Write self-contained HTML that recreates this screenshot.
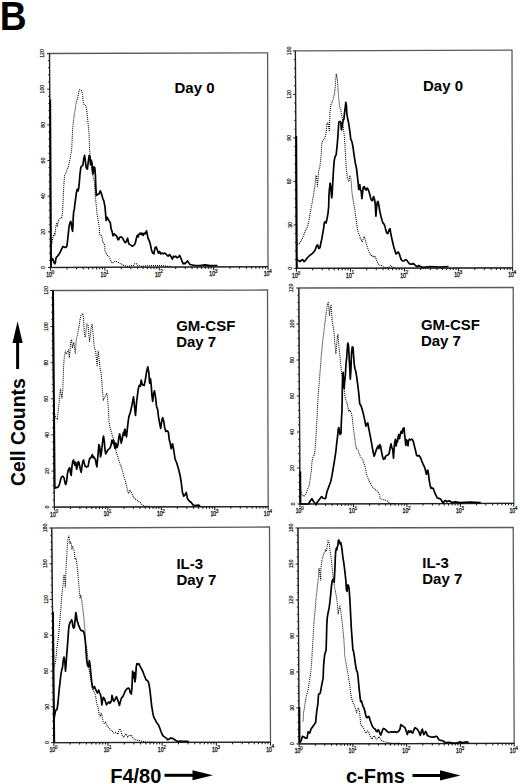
<!DOCTYPE html>
<html><head><meta charset="utf-8"><style>
html,body{margin:0;padding:0;background:#fff;}
body{width:520px;height:784px;position:relative;overflow:hidden;font-family:"Liberation Sans",sans-serif;}
svg text{font-family:"Liberation Sans",sans-serif;}
</style></head><body>
<svg width="520" height="784" viewBox="0 0 520 784" style="position:absolute;left:0;top:0">
<text transform="translate(-0.15,29.9) scale(0.895,1)"  font-weight="bold" font-size="41.5" fill="#000">B</text>
<polyline points="50.60,267.50 49.50,53.50 267.60,52.80 268.00,266.70 50.60,267.50" fill="none" stroke="#5a5a5a" stroke-width="1.3"/>
<polyline points="49.50,53.50 50.60,267.50 268.00,266.70" fill="none" stroke="#222" stroke-width="1.15"/>
<line x1="48.00" y1="267.50" x2="50.60" y2="267.50" stroke="#222" stroke-width="1.0"/>
<text transform="translate(45.40,267.50) rotate(-90) scale(0.85,1)" text-anchor="middle"  font-size="6.1" fill="#111" stroke="#111" stroke-width="0.2">0</text>
<line x1="48.96" y1="260.37" x2="50.56" y2="260.37" stroke="#222" stroke-width="0.9"/>
<line x1="48.93" y1="253.23" x2="50.53" y2="253.23" stroke="#222" stroke-width="0.9"/>
<line x1="48.89" y1="246.10" x2="50.49" y2="246.10" stroke="#222" stroke-width="0.9"/>
<line x1="48.85" y1="238.97" x2="50.45" y2="238.97" stroke="#222" stroke-width="0.9"/>
<line x1="47.82" y1="231.83" x2="50.42" y2="231.83" stroke="#222" stroke-width="1.0"/>
<text transform="translate(45.22,231.83) rotate(-90) scale(0.85,1)" text-anchor="middle"  font-size="6.1" fill="#111" stroke="#111" stroke-width="0.2">20</text>
<line x1="48.78" y1="224.70" x2="50.38" y2="224.70" stroke="#222" stroke-width="0.9"/>
<line x1="48.74" y1="217.57" x2="50.34" y2="217.57" stroke="#222" stroke-width="0.9"/>
<line x1="48.71" y1="210.43" x2="50.31" y2="210.43" stroke="#222" stroke-width="0.9"/>
<line x1="48.67" y1="203.30" x2="50.27" y2="203.30" stroke="#222" stroke-width="0.9"/>
<line x1="47.63" y1="196.17" x2="50.23" y2="196.17" stroke="#222" stroke-width="1.0"/>
<text transform="translate(45.03,196.17) rotate(-90) scale(0.85,1)" text-anchor="middle"  font-size="6.1" fill="#111" stroke="#111" stroke-width="0.2">40</text>
<line x1="48.60" y1="189.03" x2="50.20" y2="189.03" stroke="#222" stroke-width="0.9"/>
<line x1="48.56" y1="181.90" x2="50.16" y2="181.90" stroke="#222" stroke-width="0.9"/>
<line x1="48.52" y1="174.77" x2="50.12" y2="174.77" stroke="#222" stroke-width="0.9"/>
<line x1="48.49" y1="167.63" x2="50.09" y2="167.63" stroke="#222" stroke-width="0.9"/>
<line x1="47.45" y1="160.50" x2="50.05" y2="160.50" stroke="#222" stroke-width="1.0"/>
<text transform="translate(44.85,160.50) rotate(-90) scale(0.85,1)" text-anchor="middle"  font-size="6.1" fill="#111" stroke="#111" stroke-width="0.2">60</text>
<line x1="48.41" y1="153.37" x2="50.01" y2="153.37" stroke="#222" stroke-width="0.9"/>
<line x1="48.38" y1="146.23" x2="49.98" y2="146.23" stroke="#222" stroke-width="0.9"/>
<line x1="48.34" y1="139.10" x2="49.94" y2="139.10" stroke="#222" stroke-width="0.9"/>
<line x1="48.30" y1="131.97" x2="49.90" y2="131.97" stroke="#222" stroke-width="0.9"/>
<line x1="47.27" y1="124.83" x2="49.87" y2="124.83" stroke="#222" stroke-width="1.0"/>
<text transform="translate(44.67,124.83) rotate(-90) scale(0.85,1)" text-anchor="middle"  font-size="6.1" fill="#111" stroke="#111" stroke-width="0.2">80</text>
<line x1="48.23" y1="117.70" x2="49.83" y2="117.70" stroke="#222" stroke-width="0.9"/>
<line x1="48.19" y1="110.57" x2="49.79" y2="110.57" stroke="#222" stroke-width="0.9"/>
<line x1="48.16" y1="103.43" x2="49.76" y2="103.43" stroke="#222" stroke-width="0.9"/>
<line x1="48.12" y1="96.30" x2="49.72" y2="96.30" stroke="#222" stroke-width="0.9"/>
<line x1="47.08" y1="89.17" x2="49.68" y2="89.17" stroke="#222" stroke-width="1.0"/>
<text transform="translate(44.48,89.17) rotate(-90) scale(0.85,1)" text-anchor="middle"  font-size="6.1" fill="#111" stroke="#111" stroke-width="0.2">100</text>
<line x1="48.05" y1="82.03" x2="49.65" y2="82.03" stroke="#222" stroke-width="0.9"/>
<line x1="48.01" y1="74.90" x2="49.61" y2="74.90" stroke="#222" stroke-width="0.9"/>
<line x1="47.97" y1="67.77" x2="49.57" y2="67.77" stroke="#222" stroke-width="0.9"/>
<line x1="47.94" y1="60.63" x2="49.54" y2="60.63" stroke="#222" stroke-width="0.9"/>
<line x1="46.90" y1="53.50" x2="49.50" y2="53.50" stroke="#222" stroke-width="1.0"/>
<text transform="translate(44.30,53.50) rotate(-90) scale(0.85,1)" text-anchor="middle"  font-size="6.1" fill="#111" stroke="#111" stroke-width="0.2">120</text>
<line x1="50.60" y1="267.50" x2="50.60" y2="270.80" stroke="#111" stroke-width="1.0"/>
<text transform="translate(49.10,276.90) scale(0.8,1)" text-anchor="middle"  font-size="6.4" fill="#111" stroke="#111" stroke-width="0.3">10</text>
<text transform="translate(51.60,273.70) scale(0.85,1)"  font-size="5.8" fill="#111" stroke="#111" stroke-width="0.25">0</text>
<line x1="66.96" y1="267.44" x2="66.96" y2="269.44" stroke="#111" stroke-width="1.0"/>
<line x1="76.53" y1="267.40" x2="76.53" y2="269.40" stroke="#111" stroke-width="1.0"/>
<line x1="83.32" y1="267.38" x2="83.32" y2="269.38" stroke="#111" stroke-width="1.0"/>
<line x1="88.59" y1="267.36" x2="88.59" y2="269.36" stroke="#111" stroke-width="1.0"/>
<line x1="92.89" y1="267.34" x2="92.89" y2="269.34" stroke="#111" stroke-width="1.0"/>
<line x1="96.53" y1="267.33" x2="96.53" y2="269.33" stroke="#111" stroke-width="1.0"/>
<line x1="99.68" y1="267.32" x2="99.68" y2="269.32" stroke="#111" stroke-width="1.0"/>
<line x1="102.46" y1="267.31" x2="102.46" y2="269.31" stroke="#111" stroke-width="1.0"/>
<line x1="104.95" y1="267.30" x2="104.95" y2="270.60" stroke="#111" stroke-width="1.0"/>
<text transform="translate(103.45,276.70) scale(0.8,1)" text-anchor="middle"  font-size="6.4" fill="#111" stroke="#111" stroke-width="0.3">10</text>
<text transform="translate(105.95,273.50) scale(0.85,1)"  font-size="5.8" fill="#111" stroke="#111" stroke-width="0.25">1</text>
<line x1="121.31" y1="267.24" x2="121.31" y2="269.24" stroke="#111" stroke-width="1.0"/>
<line x1="130.88" y1="267.20" x2="130.88" y2="269.20" stroke="#111" stroke-width="1.0"/>
<line x1="137.67" y1="267.18" x2="137.67" y2="269.18" stroke="#111" stroke-width="1.0"/>
<line x1="142.94" y1="267.16" x2="142.94" y2="269.16" stroke="#111" stroke-width="1.0"/>
<line x1="147.24" y1="267.14" x2="147.24" y2="269.14" stroke="#111" stroke-width="1.0"/>
<line x1="150.88" y1="267.13" x2="150.88" y2="269.13" stroke="#111" stroke-width="1.0"/>
<line x1="154.03" y1="267.12" x2="154.03" y2="269.12" stroke="#111" stroke-width="1.0"/>
<line x1="156.81" y1="267.11" x2="156.81" y2="269.11" stroke="#111" stroke-width="1.0"/>
<line x1="159.30" y1="267.10" x2="159.30" y2="270.40" stroke="#111" stroke-width="1.0"/>
<text transform="translate(157.80,276.50) scale(0.8,1)" text-anchor="middle"  font-size="6.4" fill="#111" stroke="#111" stroke-width="0.3">10</text>
<text transform="translate(160.30,273.30) scale(0.85,1)"  font-size="5.8" fill="#111" stroke="#111" stroke-width="0.25">2</text>
<line x1="175.66" y1="267.04" x2="175.66" y2="269.04" stroke="#111" stroke-width="1.0"/>
<line x1="185.23" y1="267.00" x2="185.23" y2="269.00" stroke="#111" stroke-width="1.0"/>
<line x1="192.02" y1="266.98" x2="192.02" y2="268.98" stroke="#111" stroke-width="1.0"/>
<line x1="197.29" y1="266.96" x2="197.29" y2="268.96" stroke="#111" stroke-width="1.0"/>
<line x1="201.59" y1="266.94" x2="201.59" y2="268.94" stroke="#111" stroke-width="1.0"/>
<line x1="205.23" y1="266.93" x2="205.23" y2="268.93" stroke="#111" stroke-width="1.0"/>
<line x1="208.38" y1="266.92" x2="208.38" y2="268.92" stroke="#111" stroke-width="1.0"/>
<line x1="211.16" y1="266.91" x2="211.16" y2="268.91" stroke="#111" stroke-width="1.0"/>
<line x1="213.65" y1="266.90" x2="213.65" y2="270.20" stroke="#111" stroke-width="1.0"/>
<text transform="translate(212.15,276.30) scale(0.8,1)" text-anchor="middle"  font-size="6.4" fill="#111" stroke="#111" stroke-width="0.3">10</text>
<text transform="translate(214.65,273.10) scale(0.85,1)"  font-size="5.8" fill="#111" stroke="#111" stroke-width="0.25">3</text>
<line x1="230.01" y1="266.84" x2="230.01" y2="268.84" stroke="#111" stroke-width="1.0"/>
<line x1="239.58" y1="266.80" x2="239.58" y2="268.80" stroke="#111" stroke-width="1.0"/>
<line x1="246.37" y1="266.78" x2="246.37" y2="268.78" stroke="#111" stroke-width="1.0"/>
<line x1="251.64" y1="266.76" x2="251.64" y2="268.76" stroke="#111" stroke-width="1.0"/>
<line x1="255.94" y1="266.74" x2="255.94" y2="268.74" stroke="#111" stroke-width="1.0"/>
<line x1="259.58" y1="266.73" x2="259.58" y2="268.73" stroke="#111" stroke-width="1.0"/>
<line x1="262.73" y1="266.72" x2="262.73" y2="268.72" stroke="#111" stroke-width="1.0"/>
<line x1="265.51" y1="266.71" x2="265.51" y2="268.71" stroke="#111" stroke-width="1.0"/>
<line x1="268.00" y1="266.70" x2="268.00" y2="270.00" stroke="#111" stroke-width="1.0"/>
<text transform="translate(266.50,276.10) scale(0.8,1)" text-anchor="middle"  font-size="6.4" fill="#111" stroke="#111" stroke-width="0.3">10</text>
<text transform="translate(269.00,272.90) scale(0.85,1)"  font-size="5.8" fill="#111" stroke="#111" stroke-width="0.25">4</text>
<polyline points="51.00,250.00 51.50,245.00 53.10,236.60 53.90,234.80 54.50,233.90 54.90,235.70 55.40,230.40 55.80,226.80 56.30,224.10 56.90,222.80 57.40,226.80 58.10,222.30 58.50,220.50 59.40,219.20 60.30,218.30 61.40,217.90 62.10,216.10 62.50,212.50 62.80,207.10 63.10,200.00 63.50,192.00 63.90,184.00 64.60,175.40 66.20,172.30 67.40,168.50 68.50,166.20 69.50,161.50 70.40,157.00 71.00,153.50 71.70,149.40 72.00,143.30 72.30,137.10 72.50,131.00 73.00,124.90 73.50,120.80 74.00,116.70 74.70,112.70 75.30,108.60 76.10,103.50 76.80,100.40 77.60,98.40 78.40,94.30 79.10,90.20 79.80,89.70 80.70,90.20 81.70,91.20 82.50,94.30 82.90,98.40 83.50,103.50 84.20,104.50 85.20,105.00 86.00,106.50 86.60,108.60 87.00,112.70 87.60,118.80 88.00,122.90 88.60,129.00 89.00,133.10 89.30,141.20 89.60,149.40 90.20,156.00 90.80,161.50 91.50,169.20 92.30,173.80 93.10,176.90 94.20,180.00 94.60,186.20 95.40,196.90 96.20,204.60 96.90,212.30 97.20,215.00 98.00,219.60 98.80,224.20 99.40,228.80 99.50,233.50 100.30,235.40 101.50,235.40 102.20,238.10 102.60,241.90 104.20,243.50 104.80,245.80 104.90,250.40 106.10,252.70 106.80,255.00 108.80,256.50 109.90,258.50 111.10,261.20 112.20,263.10 113.80,262.30 115.30,261.20 117.20,261.90 119.50,263.10 121.80,264.20 123.80,265.40 126.50,266.20 128.10,266.20 131.20,265.70 133.50,265.40 135.00,263.50 136.50,263.80 138.10,265.70 141.90,266.20 148.10,265.70 155.80,265.40 160.40,265.40 166.50,266.20 170.00,266.30" fill="none" stroke="#000" stroke-width="1.05" stroke-dasharray="1,1"/>
<polyline points="50.60,259.00 50.90,258.00 51.50,260.70 52.30,258.50 53.10,259.80 54.00,262.50 54.80,263.80 55.40,262.50 55.80,258.90 56.50,257.10 57.40,256.30 58.50,254.90 59.40,253.60 60.30,251.80 61.20,250.00 62.10,248.20 63.00,246.40 63.90,246.90 64.80,247.30 66.10,247.30 67.00,245.50 67.40,242.00 67.90,237.50 68.30,233.90 68.80,228.60 69.40,225.00 70.10,222.30 70.80,221.40 71.40,224.10 72.10,229.50 72.60,231.30 73.00,225.00 73.20,217.90 73.70,211.60 74.40,208.90 75.00,202.70 75.50,200.00 76.20,193.80 77.20,189.20 78.20,190.80 78.80,187.70 79.40,181.50 80.00,173.80 80.80,167.70 81.50,166.20 82.80,165.40 83.80,158.50 84.60,155.40 85.40,161.50 86.20,167.70 87.40,169.20 88.50,160.00 89.20,155.40 90.00,156.90 90.50,164.60 91.20,160.00 92.00,163.10 92.60,170.80 93.10,173.80 93.80,166.90 94.80,167.70 95.40,175.40 95.80,186.20 96.30,195.40 97.70,194.60 99.20,193.80 100.30,190.80 101.50,193.80 102.80,198.50 103.80,200.80 104.90,206.20 105.70,215.00 106.10,220.40 107.20,217.30 108.80,220.40 110.30,222.70 111.10,228.80 112.20,231.90 113.00,235.80 114.20,233.80 115.30,235.00 116.80,236.20 118.00,239.60 118.80,239.60 119.50,237.30 121.10,236.90 122.60,238.10 124.20,241.20 125.30,242.70 126.50,241.20 127.60,238.10 128.10,240.80 128.80,243.80 129.90,244.60 131.20,245.40 132.40,246.20 133.50,245.40 134.50,244.60 135.50,242.30 136.50,237.70 137.30,235.40 138.10,236.90 138.80,234.60 140.10,233.10 141.20,234.60 141.90,233.10 143.20,235.40 144.20,233.10 145.30,233.80 146.50,230.80 147.30,234.60 148.10,238.50 149.30,240.80 150.40,244.60 151.50,250.00 152.70,253.10 153.90,253.80 155.00,247.70 156.10,246.90 157.30,250.00 158.50,253.10 159.60,251.50 160.70,253.80 161.90,253.10 163.50,253.80 165.00,253.10 166.50,254.60 168.10,256.20 169.60,254.60 171.20,256.90 172.40,259.20 173.50,256.20 174.50,256.90 175.80,256.20 177.00,257.70 178.50,256.90 179.60,255.40 180.70,257.70 181.90,260.80 183.20,263.80 184.20,263.10 185.00,263.75 187.50,261.00 190.00,264.50 192.50,265.00 195.00,265.50 200.00,265.50 205.00,264.80 210.00,265.60 217.50,265.50" fill="none" stroke="#000" stroke-width="1.7" stroke-linejoin="round"/>
<line x1="50.24" y1="99.50" x2="51.10" y2="267.00" stroke="#000" stroke-width="1.8"/>
<text transform="translate(174.50,92.60) scale(1,0.93)"  font-weight="bold" font-size="15" fill="#000">Day 0</text>
<polyline points="296.40,268.40 295.40,50.90 512.00,50.20 512.60,267.90 296.40,268.40" fill="none" stroke="#5a5a5a" stroke-width="1.3"/>
<polyline points="295.40,50.90 296.40,268.40 512.60,267.90" fill="none" stroke="#222" stroke-width="1.15"/>
<line x1="293.80" y1="268.40" x2="296.40" y2="268.40" stroke="#222" stroke-width="1.0"/>
<text transform="translate(291.70,268.40) rotate(-90) scale(0.85,1)" text-anchor="middle"  font-size="6.1" fill="#111" stroke="#111" stroke-width="0.2">0</text>
<line x1="294.76" y1="259.70" x2="296.36" y2="259.70" stroke="#222" stroke-width="0.9"/>
<line x1="294.72" y1="251.00" x2="296.32" y2="251.00" stroke="#222" stroke-width="0.9"/>
<line x1="294.68" y1="242.30" x2="296.28" y2="242.30" stroke="#222" stroke-width="0.9"/>
<line x1="294.64" y1="233.60" x2="296.24" y2="233.60" stroke="#222" stroke-width="0.9"/>
<line x1="293.60" y1="224.90" x2="296.20" y2="224.90" stroke="#222" stroke-width="1.0"/>
<text transform="translate(291.50,224.90) rotate(-90) scale(0.85,1)" text-anchor="middle"  font-size="6.1" fill="#111" stroke="#111" stroke-width="0.2">30</text>
<line x1="294.56" y1="216.20" x2="296.16" y2="216.20" stroke="#222" stroke-width="0.9"/>
<line x1="294.52" y1="207.50" x2="296.12" y2="207.50" stroke="#222" stroke-width="0.9"/>
<line x1="294.48" y1="198.80" x2="296.08" y2="198.80" stroke="#222" stroke-width="0.9"/>
<line x1="294.44" y1="190.10" x2="296.04" y2="190.10" stroke="#222" stroke-width="0.9"/>
<line x1="293.40" y1="181.40" x2="296.00" y2="181.40" stroke="#222" stroke-width="1.0"/>
<text transform="translate(291.30,181.40) rotate(-90) scale(0.85,1)" text-anchor="middle"  font-size="6.1" fill="#111" stroke="#111" stroke-width="0.2">60</text>
<line x1="294.36" y1="172.70" x2="295.96" y2="172.70" stroke="#222" stroke-width="0.9"/>
<line x1="294.32" y1="164.00" x2="295.92" y2="164.00" stroke="#222" stroke-width="0.9"/>
<line x1="294.28" y1="155.30" x2="295.88" y2="155.30" stroke="#222" stroke-width="0.9"/>
<line x1="294.24" y1="146.60" x2="295.84" y2="146.60" stroke="#222" stroke-width="0.9"/>
<line x1="293.20" y1="137.90" x2="295.80" y2="137.90" stroke="#222" stroke-width="1.0"/>
<text transform="translate(291.10,137.90) rotate(-90) scale(0.85,1)" text-anchor="middle"  font-size="6.1" fill="#111" stroke="#111" stroke-width="0.2">90</text>
<line x1="294.16" y1="129.20" x2="295.76" y2="129.20" stroke="#222" stroke-width="0.9"/>
<line x1="294.12" y1="120.50" x2="295.72" y2="120.50" stroke="#222" stroke-width="0.9"/>
<line x1="294.08" y1="111.80" x2="295.68" y2="111.80" stroke="#222" stroke-width="0.9"/>
<line x1="294.04" y1="103.10" x2="295.64" y2="103.10" stroke="#222" stroke-width="0.9"/>
<line x1="293.00" y1="94.40" x2="295.60" y2="94.40" stroke="#222" stroke-width="1.0"/>
<text transform="translate(290.90,94.40) rotate(-90) scale(0.85,1)" text-anchor="middle"  font-size="6.1" fill="#111" stroke="#111" stroke-width="0.2">120</text>
<line x1="293.96" y1="85.70" x2="295.56" y2="85.70" stroke="#222" stroke-width="0.9"/>
<line x1="293.92" y1="77.00" x2="295.52" y2="77.00" stroke="#222" stroke-width="0.9"/>
<line x1="293.88" y1="68.30" x2="295.48" y2="68.30" stroke="#222" stroke-width="0.9"/>
<line x1="293.84" y1="59.60" x2="295.44" y2="59.60" stroke="#222" stroke-width="0.9"/>
<line x1="292.80" y1="50.90" x2="295.40" y2="50.90" stroke="#222" stroke-width="1.0"/>
<text transform="translate(290.70,50.90) rotate(-90) scale(0.85,1)" text-anchor="middle"  font-size="6.1" fill="#111" stroke="#111" stroke-width="0.2">150</text>
<line x1="296.40" y1="268.40" x2="296.40" y2="271.70" stroke="#111" stroke-width="1.0"/>
<text transform="translate(294.90,277.80) scale(0.8,1)" text-anchor="middle"  font-size="6.4" fill="#111" stroke="#111" stroke-width="0.3">10</text>
<text transform="translate(297.40,274.60) scale(0.85,1)"  font-size="5.8" fill="#111" stroke="#111" stroke-width="0.25">0</text>
<line x1="312.67" y1="268.36" x2="312.67" y2="270.36" stroke="#111" stroke-width="1.0"/>
<line x1="322.19" y1="268.34" x2="322.19" y2="270.34" stroke="#111" stroke-width="1.0"/>
<line x1="328.94" y1="268.32" x2="328.94" y2="270.32" stroke="#111" stroke-width="1.0"/>
<line x1="334.18" y1="268.31" x2="334.18" y2="270.31" stroke="#111" stroke-width="1.0"/>
<line x1="338.46" y1="268.30" x2="338.46" y2="270.30" stroke="#111" stroke-width="1.0"/>
<line x1="342.08" y1="268.29" x2="342.08" y2="270.29" stroke="#111" stroke-width="1.0"/>
<line x1="345.21" y1="268.29" x2="345.21" y2="270.29" stroke="#111" stroke-width="1.0"/>
<line x1="347.98" y1="268.28" x2="347.98" y2="270.28" stroke="#111" stroke-width="1.0"/>
<line x1="350.45" y1="268.27" x2="350.45" y2="271.57" stroke="#111" stroke-width="1.0"/>
<text transform="translate(348.95,277.67) scale(0.8,1)" text-anchor="middle"  font-size="6.4" fill="#111" stroke="#111" stroke-width="0.3">10</text>
<text transform="translate(351.45,274.47) scale(0.85,1)"  font-size="5.8" fill="#111" stroke="#111" stroke-width="0.25">1</text>
<line x1="366.72" y1="268.24" x2="366.72" y2="270.24" stroke="#111" stroke-width="1.0"/>
<line x1="376.24" y1="268.22" x2="376.24" y2="270.22" stroke="#111" stroke-width="1.0"/>
<line x1="382.99" y1="268.20" x2="382.99" y2="270.20" stroke="#111" stroke-width="1.0"/>
<line x1="388.23" y1="268.19" x2="388.23" y2="270.19" stroke="#111" stroke-width="1.0"/>
<line x1="392.51" y1="268.18" x2="392.51" y2="270.18" stroke="#111" stroke-width="1.0"/>
<line x1="396.13" y1="268.17" x2="396.13" y2="270.17" stroke="#111" stroke-width="1.0"/>
<line x1="399.26" y1="268.16" x2="399.26" y2="270.16" stroke="#111" stroke-width="1.0"/>
<line x1="402.03" y1="268.16" x2="402.03" y2="270.16" stroke="#111" stroke-width="1.0"/>
<line x1="404.50" y1="268.15" x2="404.50" y2="271.45" stroke="#111" stroke-width="1.0"/>
<text transform="translate(403.00,277.55) scale(0.8,1)" text-anchor="middle"  font-size="6.4" fill="#111" stroke="#111" stroke-width="0.3">10</text>
<text transform="translate(405.50,274.35) scale(0.85,1)"  font-size="5.8" fill="#111" stroke="#111" stroke-width="0.25">2</text>
<line x1="420.77" y1="268.11" x2="420.77" y2="270.11" stroke="#111" stroke-width="1.0"/>
<line x1="430.29" y1="268.09" x2="430.29" y2="270.09" stroke="#111" stroke-width="1.0"/>
<line x1="437.04" y1="268.07" x2="437.04" y2="270.07" stroke="#111" stroke-width="1.0"/>
<line x1="442.28" y1="268.06" x2="442.28" y2="270.06" stroke="#111" stroke-width="1.0"/>
<line x1="446.56" y1="268.05" x2="446.56" y2="270.05" stroke="#111" stroke-width="1.0"/>
<line x1="450.18" y1="268.04" x2="450.18" y2="270.04" stroke="#111" stroke-width="1.0"/>
<line x1="453.31" y1="268.04" x2="453.31" y2="270.04" stroke="#111" stroke-width="1.0"/>
<line x1="456.08" y1="268.03" x2="456.08" y2="270.03" stroke="#111" stroke-width="1.0"/>
<line x1="458.55" y1="268.02" x2="458.55" y2="271.32" stroke="#111" stroke-width="1.0"/>
<text transform="translate(457.05,277.42) scale(0.8,1)" text-anchor="middle"  font-size="6.4" fill="#111" stroke="#111" stroke-width="0.3">10</text>
<text transform="translate(459.55,274.22) scale(0.85,1)"  font-size="5.8" fill="#111" stroke="#111" stroke-width="0.25">3</text>
<line x1="474.82" y1="267.99" x2="474.82" y2="269.99" stroke="#111" stroke-width="1.0"/>
<line x1="484.34" y1="267.97" x2="484.34" y2="269.97" stroke="#111" stroke-width="1.0"/>
<line x1="491.09" y1="267.95" x2="491.09" y2="269.95" stroke="#111" stroke-width="1.0"/>
<line x1="496.33" y1="267.94" x2="496.33" y2="269.94" stroke="#111" stroke-width="1.0"/>
<line x1="500.61" y1="267.93" x2="500.61" y2="269.93" stroke="#111" stroke-width="1.0"/>
<line x1="504.23" y1="267.92" x2="504.23" y2="269.92" stroke="#111" stroke-width="1.0"/>
<line x1="507.36" y1="267.91" x2="507.36" y2="269.91" stroke="#111" stroke-width="1.0"/>
<line x1="510.13" y1="267.91" x2="510.13" y2="269.91" stroke="#111" stroke-width="1.0"/>
<line x1="512.60" y1="267.90" x2="512.60" y2="271.20" stroke="#111" stroke-width="1.0"/>
<text transform="translate(511.10,277.30) scale(0.8,1)" text-anchor="middle"  font-size="6.4" fill="#111" stroke="#111" stroke-width="0.3">10</text>
<text transform="translate(513.60,274.10) scale(0.85,1)"  font-size="5.8" fill="#111" stroke="#111" stroke-width="0.25">4</text>
<polyline points="297.50,245.00 298.50,244.20 299.90,242.70 301.30,240.60 302.70,237.80 304.10,234.30 305.50,230.10 307.60,226.60 308.70,221.70 309.70,216.10 310.70,210.50 311.80,204.90 313.00,197.90 313.90,192.30 314.60,188.10 315.30,182.40 315.80,175.40 316.70,176.80 317.40,186.60 317.90,181.00 318.60,171.20 319.50,168.40 319.60,168.50 320.40,162.30 321.20,154.60 321.90,142.30 323.50,140.00 325.00,137.70 326.10,133.10 327.00,123.10 328.10,123.10 328.80,128.50 329.60,131.50 329.60,120.80 330.10,110.00 331.20,103.80 332.20,102.30 333.20,99.20 334.20,94.60 335.00,90.00 335.50,82.50 336.25,73.75 337.50,80.00 338.00,90.00 338.10,90.00 338.80,99.20 339.60,106.90 340.70,109.20 341.50,114.60 342.40,119.20 343.20,126.90 344.20,134.60 345.00,145.40 345.50,154.60 345.80,160.00 346.20,167.00 347.20,176.80 348.30,181.00 349.00,181.70 349.70,175.40 350.80,178.20 351.40,183.80 351.80,190.90 352.50,196.50 353.90,204.90 355.00,210.50 355.30,214.70 356.30,220.30 357.30,228.70 358.40,232.90 359.80,236.40 361.20,239.90 362.30,242.00 363.30,238.50 364.30,236.40 365.40,240.60 366.50,244.20 367.50,247.70 368.50,250.50 369.60,253.30 371.00,255.40 372.40,255.40 373.60,257.50 375.00,256.10 375.90,258.20 376.90,261.00 378.00,263.80 379.50,264.90 381.60,265.50 383.70,267.30 386.50,267.70 389.30,266.90 391.00,265.20 392.10,266.90 394.90,267.70" fill="none" stroke="#000" stroke-width="1.05" stroke-dasharray="1,1"/>
<polyline points="296.60,258.00 297.50,260.00 298.50,260.30 299.90,261.70 301.30,260.30 302.70,259.60 304.10,261.70 305.50,260.30 307.60,257.50 309.70,255.40 311.80,254.00 313.90,251.90 315.30,249.80 316.70,245.60 317.70,244.90 318.80,248.40 320.00,247.70 320.90,242.70 321.90,238.50 322.80,232.90 323.80,227.30 324.20,223.10 325.20,221.70 326.10,223.10 327.00,218.90 328.00,213.30 328.70,206.30 328.90,196.50 329.40,189.50 330.10,183.10 330.80,186.60 331.20,192.30 331.70,197.90 332.20,193.70 332.60,185.20 333.10,176.80 333.50,170.00 334.20,160.80 335.00,156.90 336.20,154.60 337.00,146.90 337.80,137.70 338.40,128.50 338.80,122.30 339.90,121.50 340.80,122.30 341.50,130.00 342.20,125.40 343.00,120.80 343.90,119.20 344.50,113.10 345.30,106.90 345.80,102.30 346.40,105.40 346.80,113.10 347.60,118.50 348.50,122.30 349.20,126.90 350.10,133.10 350.70,139.20 351.60,140.80 352.40,143.80 353.20,148.50 353.80,153.10 354.70,159.20 355.30,163.10 356.20,166.90 356.70,169.80 357.30,175.40 358.10,182.40 358.70,189.50 359.80,184.50 360.50,190.20 361.20,190.90 361.90,198.60 362.60,192.30 363.30,187.30 364.30,186.60 365.40,189.50 366.10,190.20 367.10,188.10 368.20,189.50 369.40,193.00 370.30,196.50 371.30,200.00 372.40,200.70 373.60,196.50 374.50,199.30 375.20,203.50 375.90,216.10 376.60,207.70 377.30,202.10 378.00,201.40 378.80,204.90 379.70,210.50 380.90,216.10 382.00,220.30 383.00,223.10 383.90,223.80 384.80,225.90 385.80,230.10 386.70,232.90 387.90,233.60 389.00,230.10 390.00,228.70 390.70,232.90 391.80,238.50 392.80,242.70 393.80,247.00 394.90,250.50 396.00,254.00 397.00,253.30 398.00,251.90 399.10,253.30 400.20,256.80 401.20,259.60 402.60,261.00 404.00,261.00 405.40,259.60 406.80,260.30 408.20,262.40 409.60,263.80 411.70,264.10 413.10,263.50 414.50,264.50 415.90,265.90 417.30,266.60 418.70,265.50 420.00,266.30 423.00,267.40 430.00,266.50 440.00,267.00 448.50,266.50" fill="none" stroke="#000" stroke-width="1.7" stroke-linejoin="round"/>
<line x1="296.29" y1="136.00" x2="296.90" y2="268.00" stroke="#000" stroke-width="1.8"/>
<text transform="translate(423.00,91.00) scale(1,0.93)"  font-weight="bold" font-size="15" fill="#000">Day 0</text>
<polyline points="54.40,507.10 52.60,290.50 267.50,290.00 268.20,506.60 54.40,507.10" fill="none" stroke="#5a5a5a" stroke-width="1.3"/>
<polyline points="52.60,290.50 54.40,507.10 268.20,506.60" fill="none" stroke="#222" stroke-width="1.15"/>
<line x1="51.80" y1="507.10" x2="54.40" y2="507.10" stroke="#222" stroke-width="1.0"/>
<text transform="translate(49.30,507.10) rotate(-90) scale(0.85,1)" text-anchor="middle"  font-size="6.1" fill="#111" stroke="#111" stroke-width="0.2">0</text>
<line x1="52.74" y1="499.88" x2="54.34" y2="499.88" stroke="#222" stroke-width="0.9"/>
<line x1="52.68" y1="492.66" x2="54.28" y2="492.66" stroke="#222" stroke-width="0.9"/>
<line x1="52.62" y1="485.44" x2="54.22" y2="485.44" stroke="#222" stroke-width="0.9"/>
<line x1="52.56" y1="478.22" x2="54.16" y2="478.22" stroke="#222" stroke-width="0.9"/>
<line x1="51.50" y1="471.00" x2="54.10" y2="471.00" stroke="#222" stroke-width="1.0"/>
<text transform="translate(49.00,471.00) rotate(-90) scale(0.85,1)" text-anchor="middle"  font-size="6.1" fill="#111" stroke="#111" stroke-width="0.2">20</text>
<line x1="52.44" y1="463.78" x2="54.04" y2="463.78" stroke="#222" stroke-width="0.9"/>
<line x1="52.38" y1="456.56" x2="53.98" y2="456.56" stroke="#222" stroke-width="0.9"/>
<line x1="52.32" y1="449.34" x2="53.92" y2="449.34" stroke="#222" stroke-width="0.9"/>
<line x1="52.26" y1="442.12" x2="53.86" y2="442.12" stroke="#222" stroke-width="0.9"/>
<line x1="51.20" y1="434.90" x2="53.80" y2="434.90" stroke="#222" stroke-width="1.0"/>
<text transform="translate(48.70,434.90) rotate(-90) scale(0.85,1)" text-anchor="middle"  font-size="6.1" fill="#111" stroke="#111" stroke-width="0.2">40</text>
<line x1="52.14" y1="427.68" x2="53.74" y2="427.68" stroke="#222" stroke-width="0.9"/>
<line x1="52.08" y1="420.46" x2="53.68" y2="420.46" stroke="#222" stroke-width="0.9"/>
<line x1="52.02" y1="413.24" x2="53.62" y2="413.24" stroke="#222" stroke-width="0.9"/>
<line x1="51.96" y1="406.02" x2="53.56" y2="406.02" stroke="#222" stroke-width="0.9"/>
<line x1="50.90" y1="398.80" x2="53.50" y2="398.80" stroke="#222" stroke-width="1.0"/>
<text transform="translate(48.40,398.80) rotate(-90) scale(0.85,1)" text-anchor="middle"  font-size="6.1" fill="#111" stroke="#111" stroke-width="0.2">60</text>
<line x1="51.84" y1="391.58" x2="53.44" y2="391.58" stroke="#222" stroke-width="0.9"/>
<line x1="51.78" y1="384.36" x2="53.38" y2="384.36" stroke="#222" stroke-width="0.9"/>
<line x1="51.72" y1="377.14" x2="53.32" y2="377.14" stroke="#222" stroke-width="0.9"/>
<line x1="51.66" y1="369.92" x2="53.26" y2="369.92" stroke="#222" stroke-width="0.9"/>
<line x1="50.60" y1="362.70" x2="53.20" y2="362.70" stroke="#222" stroke-width="1.0"/>
<text transform="translate(48.10,362.70) rotate(-90) scale(0.85,1)" text-anchor="middle"  font-size="6.1" fill="#111" stroke="#111" stroke-width="0.2">80</text>
<line x1="51.54" y1="355.48" x2="53.14" y2="355.48" stroke="#222" stroke-width="0.9"/>
<line x1="51.48" y1="348.26" x2="53.08" y2="348.26" stroke="#222" stroke-width="0.9"/>
<line x1="51.42" y1="341.04" x2="53.02" y2="341.04" stroke="#222" stroke-width="0.9"/>
<line x1="51.36" y1="333.82" x2="52.96" y2="333.82" stroke="#222" stroke-width="0.9"/>
<line x1="50.30" y1="326.60" x2="52.90" y2="326.60" stroke="#222" stroke-width="1.0"/>
<text transform="translate(47.80,326.60) rotate(-90) scale(0.85,1)" text-anchor="middle"  font-size="6.1" fill="#111" stroke="#111" stroke-width="0.2">100</text>
<line x1="51.24" y1="319.38" x2="52.84" y2="319.38" stroke="#222" stroke-width="0.9"/>
<line x1="51.18" y1="312.16" x2="52.78" y2="312.16" stroke="#222" stroke-width="0.9"/>
<line x1="51.12" y1="304.94" x2="52.72" y2="304.94" stroke="#222" stroke-width="0.9"/>
<line x1="51.06" y1="297.72" x2="52.66" y2="297.72" stroke="#222" stroke-width="0.9"/>
<line x1="50.00" y1="290.50" x2="52.60" y2="290.50" stroke="#222" stroke-width="1.0"/>
<text transform="translate(47.50,290.50) rotate(-90) scale(0.85,1)" text-anchor="middle"  font-size="6.1" fill="#111" stroke="#111" stroke-width="0.2">120</text>
<line x1="54.40" y1="507.10" x2="54.40" y2="510.40" stroke="#111" stroke-width="1.0"/>
<text transform="translate(52.90,516.50) scale(0.8,1)" text-anchor="middle"  font-size="6.4" fill="#111" stroke="#111" stroke-width="0.3">10</text>
<text transform="translate(55.40,513.30) scale(0.85,1)"  font-size="5.8" fill="#111" stroke="#111" stroke-width="0.25">0</text>
<line x1="70.49" y1="507.06" x2="70.49" y2="509.06" stroke="#111" stroke-width="1.0"/>
<line x1="79.90" y1="507.04" x2="79.90" y2="509.04" stroke="#111" stroke-width="1.0"/>
<line x1="86.58" y1="507.02" x2="86.58" y2="509.02" stroke="#111" stroke-width="1.0"/>
<line x1="91.76" y1="507.01" x2="91.76" y2="509.01" stroke="#111" stroke-width="1.0"/>
<line x1="95.99" y1="507.00" x2="95.99" y2="509.00" stroke="#111" stroke-width="1.0"/>
<line x1="99.57" y1="506.99" x2="99.57" y2="508.99" stroke="#111" stroke-width="1.0"/>
<line x1="102.67" y1="506.99" x2="102.67" y2="508.99" stroke="#111" stroke-width="1.0"/>
<line x1="105.40" y1="506.98" x2="105.40" y2="508.98" stroke="#111" stroke-width="1.0"/>
<line x1="107.85" y1="506.98" x2="107.85" y2="510.28" stroke="#111" stroke-width="1.0"/>
<text transform="translate(106.35,516.38) scale(0.8,1)" text-anchor="middle"  font-size="6.4" fill="#111" stroke="#111" stroke-width="0.3">10</text>
<text transform="translate(108.85,513.18) scale(0.85,1)"  font-size="5.8" fill="#111" stroke="#111" stroke-width="0.25">1</text>
<line x1="123.94" y1="506.94" x2="123.94" y2="508.94" stroke="#111" stroke-width="1.0"/>
<line x1="133.35" y1="506.92" x2="133.35" y2="508.92" stroke="#111" stroke-width="1.0"/>
<line x1="140.03" y1="506.90" x2="140.03" y2="508.90" stroke="#111" stroke-width="1.0"/>
<line x1="145.21" y1="506.89" x2="145.21" y2="508.89" stroke="#111" stroke-width="1.0"/>
<line x1="149.44" y1="506.88" x2="149.44" y2="508.88" stroke="#111" stroke-width="1.0"/>
<line x1="153.02" y1="506.87" x2="153.02" y2="508.87" stroke="#111" stroke-width="1.0"/>
<line x1="156.12" y1="506.86" x2="156.12" y2="508.86" stroke="#111" stroke-width="1.0"/>
<line x1="158.85" y1="506.86" x2="158.85" y2="508.86" stroke="#111" stroke-width="1.0"/>
<line x1="161.30" y1="506.85" x2="161.30" y2="510.15" stroke="#111" stroke-width="1.0"/>
<text transform="translate(159.80,516.25) scale(0.8,1)" text-anchor="middle"  font-size="6.4" fill="#111" stroke="#111" stroke-width="0.3">10</text>
<text transform="translate(162.30,513.05) scale(0.85,1)"  font-size="5.8" fill="#111" stroke="#111" stroke-width="0.25">2</text>
<line x1="177.39" y1="506.81" x2="177.39" y2="508.81" stroke="#111" stroke-width="1.0"/>
<line x1="186.80" y1="506.79" x2="186.80" y2="508.79" stroke="#111" stroke-width="1.0"/>
<line x1="193.48" y1="506.77" x2="193.48" y2="508.77" stroke="#111" stroke-width="1.0"/>
<line x1="198.66" y1="506.76" x2="198.66" y2="508.76" stroke="#111" stroke-width="1.0"/>
<line x1="202.89" y1="506.75" x2="202.89" y2="508.75" stroke="#111" stroke-width="1.0"/>
<line x1="206.47" y1="506.74" x2="206.47" y2="508.74" stroke="#111" stroke-width="1.0"/>
<line x1="209.57" y1="506.74" x2="209.57" y2="508.74" stroke="#111" stroke-width="1.0"/>
<line x1="212.30" y1="506.73" x2="212.30" y2="508.73" stroke="#111" stroke-width="1.0"/>
<line x1="214.75" y1="506.73" x2="214.75" y2="510.03" stroke="#111" stroke-width="1.0"/>
<text transform="translate(213.25,516.12) scale(0.8,1)" text-anchor="middle"  font-size="6.4" fill="#111" stroke="#111" stroke-width="0.3">10</text>
<text transform="translate(215.75,512.93) scale(0.85,1)"  font-size="5.8" fill="#111" stroke="#111" stroke-width="0.25">3</text>
<line x1="230.84" y1="506.69" x2="230.84" y2="508.69" stroke="#111" stroke-width="1.0"/>
<line x1="240.25" y1="506.67" x2="240.25" y2="508.67" stroke="#111" stroke-width="1.0"/>
<line x1="246.93" y1="506.65" x2="246.93" y2="508.65" stroke="#111" stroke-width="1.0"/>
<line x1="252.11" y1="506.64" x2="252.11" y2="508.64" stroke="#111" stroke-width="1.0"/>
<line x1="256.34" y1="506.63" x2="256.34" y2="508.63" stroke="#111" stroke-width="1.0"/>
<line x1="259.92" y1="506.62" x2="259.92" y2="508.62" stroke="#111" stroke-width="1.0"/>
<line x1="263.02" y1="506.61" x2="263.02" y2="508.61" stroke="#111" stroke-width="1.0"/>
<line x1="265.75" y1="506.61" x2="265.75" y2="508.61" stroke="#111" stroke-width="1.0"/>
<line x1="268.20" y1="506.60" x2="268.20" y2="509.90" stroke="#111" stroke-width="1.0"/>
<text transform="translate(266.70,516.00) scale(0.8,1)" text-anchor="middle"  font-size="6.4" fill="#111" stroke="#111" stroke-width="0.3">10</text>
<text transform="translate(269.20,512.80) scale(0.85,1)"  font-size="5.8" fill="#111" stroke="#111" stroke-width="0.25">4</text>
<polyline points="54.30,412.20 55.80,418.30 57.40,419.10 58.40,409.10 59.40,399.90 60.40,388.50 61.20,393.80 62.00,398.40 62.70,390.80 63.20,378.50 63.60,366.30 64.30,357.10 65.50,350.90 66.50,354.00 67.60,351.70 68.50,349.40 69.30,357.80 70.10,350.90 70.70,341.80 71.60,339.50 72.40,347.90 73.10,344.80 73.90,342.50 74.70,349.40 75.40,354.00 76.00,341.80 76.80,337.20 77.70,334.90 78.30,329.50 79.30,324.90 79.90,320.30 80.80,315.70 81.90,314.20 82.60,313.40 83.40,317.30 83.90,326.40 84.50,335.60 85.40,337.20 86.00,331.00 86.90,324.10 88.00,324.90 88.80,332.60 89.50,341.80 90.30,335.60 91.10,328.00 92.10,324.10 93.00,332.60 93.70,341.80 94.60,348.60 95.60,350.90 96.40,358.60 97.20,366.30 97.60,358.60 98.20,350.90 98.90,357.10 99.50,363.20 100.20,369.30 101.00,372.40 101.80,381.60 102.50,390.80 103.30,399.90 104.40,398.40 105.60,395.40 106.80,393.10 107.40,396.90 108.40,409.10 109.00,421.40 109.70,426.20 111.20,431.50 112.80,436.90 114.30,441.50 115.40,447.70 116.30,452.30 117.40,455.40 118.50,459.20 119.70,463.10 120.90,466.20 122.00,469.20 123.10,473.80 124.30,477.70 125.50,481.50 126.60,486.20 127.70,490.80 128.60,493.80 129.70,490.00 130.80,491.50 132.00,493.80 132.50,495.00 134.50,498.75 137.00,500.00 140.00,502.50 142.50,505.00 145.00,506.25 150.00,506.30" fill="none" stroke="#000" stroke-width="1.05" stroke-dasharray="1,1"/>
<polyline points="54.40,488.50 55.40,487.70 56.60,487.70 58.20,486.90 59.40,484.60 60.50,480.00 61.50,476.90 62.80,476.20 64.00,477.70 65.10,483.10 65.80,484.60 66.60,481.50 67.40,473.80 68.60,469.20 69.70,467.70 70.50,473.10 71.20,475.40 72.00,466.20 72.80,461.50 73.50,460.00 74.30,463.10 75.10,465.40 75.80,462.30 76.60,469.20 77.40,466.20 78.20,461.50 78.90,462.30 79.70,466.20 80.50,470.00 81.20,472.30 82.00,466.20 82.80,461.50 83.50,460.00 84.30,463.10 85.10,466.20 86.60,466.90 88.20,466.20 88.90,461.50 89.70,458.50 90.80,457.70 91.70,456.20 92.30,454.60 93.20,457.70 93.80,456.90 94.80,458.50 95.50,460.00 96.30,464.60 96.90,466.90 97.50,460.00 98.20,452.30 98.90,444.60 99.70,446.90 100.50,456.90 101.20,453.80 102.00,447.70 102.80,440.00 103.50,436.20 104.30,441.50 105.10,450.80 105.80,453.80 106.60,452.30 107.70,450.00 108.90,449.20 110.20,447.70 111.20,444.60 112.00,440.00 112.80,443.10 113.50,440.00 114.30,445.40 115.10,448.50 115.80,443.10 116.60,447.70 117.40,446.90 118.20,443.10 118.90,436.90 119.70,433.80 120.50,438.50 121.20,443.10 122.00,440.00 122.80,435.40 123.50,432.30 124.30,435.40 124.50,430.00 125.00,429.20 126.50,436.90 127.80,424.60 128.80,416.90 130.40,412.30 131.90,405.40 133.50,396.90 134.50,406.20 135.50,415.40 136.50,403.10 138.10,390.00 139.20,385.40 140.40,386.20 141.20,380.00 142.20,384.60 144.20,385.40 145.30,380.00 146.50,372.30 147.80,366.90 148.80,372.30 149.60,383.10 150.40,378.50 151.20,384.60 151.90,395.40 152.70,401.50 153.50,393.80 154.50,390.80 155.50,396.90 156.50,406.20 157.60,409.20 158.50,416.90 159.60,423.10 160.70,428.50 161.90,420.00 162.70,417.70 163.80,421.50 164.70,427.70 165.80,431.50 167.30,430.80 168.40,432.30 169.30,440.00 170.00,442.50 171.25,448.75 172.50,443.75 173.75,450.00 175.00,458.75 177.00,463.75 178.75,470.00 180.00,475.00 181.25,482.50 182.50,492.50 183.75,496.25 185.00,495.00 186.25,492.50 187.50,498.75 189.50,501.25 191.25,502.50 193.00,505.00 195.00,505.50 198.75,505.00 200.00,506.25" fill="none" stroke="#000" stroke-width="1.7" stroke-linejoin="round"/>
<line x1="53.10" y1="290.50" x2="54.75" y2="488.50" stroke="#000" stroke-width="1.8"/>
<text transform="translate(176.20,330.80) scale(1,0.93)"  font-weight="bold" font-size="15" fill="#000">GM-CSF</text>
<text transform="translate(176.20,347.00) scale(1,0.93)"  font-weight="bold" font-size="15" fill="#000">Day 7</text>
<polyline points="300.00,504.00 298.80,288.00 513.20,287.50 513.80,503.30 300.00,504.00" fill="none" stroke="#5a5a5a" stroke-width="1.3"/>
<polyline points="298.80,288.00 300.00,504.00 513.80,503.30" fill="none" stroke="#222" stroke-width="1.15"/>
<line x1="297.40" y1="504.00" x2="300.00" y2="504.00" stroke="#222" stroke-width="1.0"/>
<text transform="translate(294.60,504.00) rotate(-90) scale(0.85,1)" text-anchor="middle"  font-size="6.1" fill="#111" stroke="#111" stroke-width="0.2">0</text>
<line x1="298.36" y1="496.80" x2="299.96" y2="496.80" stroke="#222" stroke-width="0.9"/>
<line x1="298.32" y1="489.60" x2="299.92" y2="489.60" stroke="#222" stroke-width="0.9"/>
<line x1="298.28" y1="482.40" x2="299.88" y2="482.40" stroke="#222" stroke-width="0.9"/>
<line x1="298.24" y1="475.20" x2="299.84" y2="475.20" stroke="#222" stroke-width="0.9"/>
<line x1="297.20" y1="468.00" x2="299.80" y2="468.00" stroke="#222" stroke-width="1.0"/>
<text transform="translate(294.40,468.00) rotate(-90) scale(0.85,1)" text-anchor="middle"  font-size="6.1" fill="#111" stroke="#111" stroke-width="0.2">20</text>
<line x1="298.16" y1="460.80" x2="299.76" y2="460.80" stroke="#222" stroke-width="0.9"/>
<line x1="298.12" y1="453.60" x2="299.72" y2="453.60" stroke="#222" stroke-width="0.9"/>
<line x1="298.08" y1="446.40" x2="299.68" y2="446.40" stroke="#222" stroke-width="0.9"/>
<line x1="298.04" y1="439.20" x2="299.64" y2="439.20" stroke="#222" stroke-width="0.9"/>
<line x1="297.00" y1="432.00" x2="299.60" y2="432.00" stroke="#222" stroke-width="1.0"/>
<text transform="translate(294.20,432.00) rotate(-90) scale(0.85,1)" text-anchor="middle"  font-size="6.1" fill="#111" stroke="#111" stroke-width="0.2">40</text>
<line x1="297.96" y1="424.80" x2="299.56" y2="424.80" stroke="#222" stroke-width="0.9"/>
<line x1="297.92" y1="417.60" x2="299.52" y2="417.60" stroke="#222" stroke-width="0.9"/>
<line x1="297.88" y1="410.40" x2="299.48" y2="410.40" stroke="#222" stroke-width="0.9"/>
<line x1="297.84" y1="403.20" x2="299.44" y2="403.20" stroke="#222" stroke-width="0.9"/>
<line x1="296.80" y1="396.00" x2="299.40" y2="396.00" stroke="#222" stroke-width="1.0"/>
<text transform="translate(294.00,396.00) rotate(-90) scale(0.85,1)" text-anchor="middle"  font-size="6.1" fill="#111" stroke="#111" stroke-width="0.2">60</text>
<line x1="297.76" y1="388.80" x2="299.36" y2="388.80" stroke="#222" stroke-width="0.9"/>
<line x1="297.72" y1="381.60" x2="299.32" y2="381.60" stroke="#222" stroke-width="0.9"/>
<line x1="297.68" y1="374.40" x2="299.28" y2="374.40" stroke="#222" stroke-width="0.9"/>
<line x1="297.64" y1="367.20" x2="299.24" y2="367.20" stroke="#222" stroke-width="0.9"/>
<line x1="296.60" y1="360.00" x2="299.20" y2="360.00" stroke="#222" stroke-width="1.0"/>
<text transform="translate(293.80,360.00) rotate(-90) scale(0.85,1)" text-anchor="middle"  font-size="6.1" fill="#111" stroke="#111" stroke-width="0.2">80</text>
<line x1="297.56" y1="352.80" x2="299.16" y2="352.80" stroke="#222" stroke-width="0.9"/>
<line x1="297.52" y1="345.60" x2="299.12" y2="345.60" stroke="#222" stroke-width="0.9"/>
<line x1="297.48" y1="338.40" x2="299.08" y2="338.40" stroke="#222" stroke-width="0.9"/>
<line x1="297.44" y1="331.20" x2="299.04" y2="331.20" stroke="#222" stroke-width="0.9"/>
<line x1="296.40" y1="324.00" x2="299.00" y2="324.00" stroke="#222" stroke-width="1.0"/>
<text transform="translate(293.60,324.00) rotate(-90) scale(0.85,1)" text-anchor="middle"  font-size="6.1" fill="#111" stroke="#111" stroke-width="0.2">100</text>
<line x1="297.36" y1="316.80" x2="298.96" y2="316.80" stroke="#222" stroke-width="0.9"/>
<line x1="297.32" y1="309.60" x2="298.92" y2="309.60" stroke="#222" stroke-width="0.9"/>
<line x1="297.28" y1="302.40" x2="298.88" y2="302.40" stroke="#222" stroke-width="0.9"/>
<line x1="297.24" y1="295.20" x2="298.84" y2="295.20" stroke="#222" stroke-width="0.9"/>
<line x1="296.20" y1="288.00" x2="298.80" y2="288.00" stroke="#222" stroke-width="1.0"/>
<text transform="translate(293.40,288.00) rotate(-90) scale(0.85,1)" text-anchor="middle"  font-size="6.1" fill="#111" stroke="#111" stroke-width="0.2">120</text>
<line x1="300.00" y1="504.00" x2="300.00" y2="507.30" stroke="#111" stroke-width="1.0"/>
<text transform="translate(298.50,513.40) scale(0.8,1)" text-anchor="middle"  font-size="6.4" fill="#111" stroke="#111" stroke-width="0.3">10</text>
<text transform="translate(301.00,510.20) scale(0.85,1)"  font-size="5.8" fill="#111" stroke="#111" stroke-width="0.25">0</text>
<line x1="316.09" y1="503.95" x2="316.09" y2="505.95" stroke="#111" stroke-width="1.0"/>
<line x1="325.50" y1="503.92" x2="325.50" y2="505.92" stroke="#111" stroke-width="1.0"/>
<line x1="332.18" y1="503.89" x2="332.18" y2="505.89" stroke="#111" stroke-width="1.0"/>
<line x1="337.36" y1="503.88" x2="337.36" y2="505.88" stroke="#111" stroke-width="1.0"/>
<line x1="341.59" y1="503.86" x2="341.59" y2="505.86" stroke="#111" stroke-width="1.0"/>
<line x1="345.17" y1="503.85" x2="345.17" y2="505.85" stroke="#111" stroke-width="1.0"/>
<line x1="348.27" y1="503.84" x2="348.27" y2="505.84" stroke="#111" stroke-width="1.0"/>
<line x1="351.00" y1="503.83" x2="351.00" y2="505.83" stroke="#111" stroke-width="1.0"/>
<line x1="353.45" y1="503.82" x2="353.45" y2="507.12" stroke="#111" stroke-width="1.0"/>
<text transform="translate(351.95,513.23) scale(0.8,1)" text-anchor="middle"  font-size="6.4" fill="#111" stroke="#111" stroke-width="0.3">10</text>
<text transform="translate(354.45,510.02) scale(0.85,1)"  font-size="5.8" fill="#111" stroke="#111" stroke-width="0.25">1</text>
<line x1="369.54" y1="503.77" x2="369.54" y2="505.77" stroke="#111" stroke-width="1.0"/>
<line x1="378.95" y1="503.74" x2="378.95" y2="505.74" stroke="#111" stroke-width="1.0"/>
<line x1="385.63" y1="503.72" x2="385.63" y2="505.72" stroke="#111" stroke-width="1.0"/>
<line x1="390.81" y1="503.70" x2="390.81" y2="505.70" stroke="#111" stroke-width="1.0"/>
<line x1="395.04" y1="503.69" x2="395.04" y2="505.69" stroke="#111" stroke-width="1.0"/>
<line x1="398.62" y1="503.68" x2="398.62" y2="505.68" stroke="#111" stroke-width="1.0"/>
<line x1="401.72" y1="503.67" x2="401.72" y2="505.67" stroke="#111" stroke-width="1.0"/>
<line x1="404.45" y1="503.66" x2="404.45" y2="505.66" stroke="#111" stroke-width="1.0"/>
<line x1="406.90" y1="503.65" x2="406.90" y2="506.95" stroke="#111" stroke-width="1.0"/>
<text transform="translate(405.40,513.05) scale(0.8,1)" text-anchor="middle"  font-size="6.4" fill="#111" stroke="#111" stroke-width="0.3">10</text>
<text transform="translate(407.90,509.85) scale(0.85,1)"  font-size="5.8" fill="#111" stroke="#111" stroke-width="0.25">2</text>
<line x1="422.99" y1="503.60" x2="422.99" y2="505.60" stroke="#111" stroke-width="1.0"/>
<line x1="432.40" y1="503.57" x2="432.40" y2="505.57" stroke="#111" stroke-width="1.0"/>
<line x1="439.08" y1="503.54" x2="439.08" y2="505.54" stroke="#111" stroke-width="1.0"/>
<line x1="444.26" y1="503.53" x2="444.26" y2="505.53" stroke="#111" stroke-width="1.0"/>
<line x1="448.49" y1="503.51" x2="448.49" y2="505.51" stroke="#111" stroke-width="1.0"/>
<line x1="452.07" y1="503.50" x2="452.07" y2="505.50" stroke="#111" stroke-width="1.0"/>
<line x1="455.17" y1="503.49" x2="455.17" y2="505.49" stroke="#111" stroke-width="1.0"/>
<line x1="457.90" y1="503.48" x2="457.90" y2="505.48" stroke="#111" stroke-width="1.0"/>
<line x1="460.35" y1="503.48" x2="460.35" y2="506.78" stroke="#111" stroke-width="1.0"/>
<text transform="translate(458.85,512.88) scale(0.8,1)" text-anchor="middle"  font-size="6.4" fill="#111" stroke="#111" stroke-width="0.3">10</text>
<text transform="translate(461.35,509.68) scale(0.85,1)"  font-size="5.8" fill="#111" stroke="#111" stroke-width="0.25">3</text>
<line x1="476.44" y1="503.42" x2="476.44" y2="505.42" stroke="#111" stroke-width="1.0"/>
<line x1="485.85" y1="503.39" x2="485.85" y2="505.39" stroke="#111" stroke-width="1.0"/>
<line x1="492.53" y1="503.37" x2="492.53" y2="505.37" stroke="#111" stroke-width="1.0"/>
<line x1="497.71" y1="503.35" x2="497.71" y2="505.35" stroke="#111" stroke-width="1.0"/>
<line x1="501.94" y1="503.34" x2="501.94" y2="505.34" stroke="#111" stroke-width="1.0"/>
<line x1="505.52" y1="503.33" x2="505.52" y2="505.33" stroke="#111" stroke-width="1.0"/>
<line x1="508.62" y1="503.32" x2="508.62" y2="505.32" stroke="#111" stroke-width="1.0"/>
<line x1="511.35" y1="503.31" x2="511.35" y2="505.31" stroke="#111" stroke-width="1.0"/>
<line x1="513.80" y1="503.30" x2="513.80" y2="506.60" stroke="#111" stroke-width="1.0"/>
<text transform="translate(512.30,512.70) scale(0.8,1)" text-anchor="middle"  font-size="6.4" fill="#111" stroke="#111" stroke-width="0.3">10</text>
<text transform="translate(514.80,509.50) scale(0.85,1)"  font-size="5.8" fill="#111" stroke="#111" stroke-width="0.25">4</text>
<polyline points="300.60,490.00 301.70,494.10 303.80,496.60 305.30,495.10 306.80,491.50 308.40,487.00 309.40,484.90 310.40,476.70 311.40,470.60 311.90,462.40 313.00,457.30 314.50,454.30 315.00,450.20 315.80,440.00 316.50,428.00 317.20,415.00 317.60,405.00 318.30,393.20 319.00,384.80 319.70,376.30 320.40,367.90 321.10,358.10 321.80,351.10 322.50,342.70 323.20,337.10 323.90,331.50 324.90,323.00 325.80,316.00 326.80,309.00 327.50,303.40 328.20,302.70 328.90,309.00 329.60,316.00 330.30,306.20 331.00,305.50 331.70,313.20 332.40,323.00 333.30,327.30 334.20,334.30 334.70,342.70 335.30,346.90 335.90,353.90 336.60,345.50 337.30,337.10 338.00,334.30 338.70,344.10 339.40,351.10 340.10,358.10 340.80,365.10 341.50,373.50 342.60,377.70 343.60,382.00 344.30,390.40 345.00,396.00 345.70,400.00 346.60,402.00 347.30,404.00 348.00,407.70 348.60,411.50 349.90,410.20 351.20,412.80 352.10,416.60 352.80,423.00 353.70,430.70 354.60,437.00 355.40,443.40 356.30,448.50 358.00,449.80 358.80,452.40 359.70,454.90 360.80,457.50 362.00,458.70 363.30,461.30 364.60,465.10 365.60,469.00 366.50,474.10 367.40,476.60 368.40,479.20 369.70,481.70 371.00,484.30 372.30,486.80 373.80,488.10 375.10,489.40 376.70,490.70 378.00,492.00 379.30,494.50 380.20,498.30 382.50,499.50 385.00,500.00 388.00,501.25 390.00,503.75 395.00,503.50" fill="none" stroke="#000" stroke-width="1.05" stroke-dasharray="1,1"/>
<polyline points="300.40,504.00 305.00,504.00 308.40,504.00 310.20,501.00 311.90,498.70 313.50,501.50 316.00,504.30 317.50,502.00 319.10,499.70 321.60,496.60 323.20,498.20 325.20,498.70 325.60,498.30 326.90,492.00 328.80,486.80 330.70,481.70 332.00,475.40 333.30,467.70 334.60,460.00 335.90,451.10 336.70,443.40 337.50,437.00 338.20,429.40 338.80,427.50 339.30,430.70 340.10,434.50 341.00,433.20 341.30,423.00 341.60,416.60 342.00,410.20 342.20,400.00 342.30,388.50 342.60,376.20 343.10,372.30 343.50,380.80 344.20,388.50 344.60,382.30 345.40,374.60 346.00,363.80 346.60,359.20 347.20,350.00 347.80,343.10 348.50,345.40 349.10,356.20 349.70,366.90 350.30,379.20 350.90,370.00 351.50,353.10 352.30,346.90 353.10,347.70 353.50,354.60 354.20,363.80 354.90,368.50 355.80,371.50 356.60,376.20 357.40,382.30 358.20,388.50 358.90,394.60 359.70,403.80 361.00,405.70 362.00,408.90 363.10,412.80 364.00,416.60 364.80,420.40 365.60,424.90 366.10,426.20 366.90,423.60 367.80,423.00 368.70,428.10 369.70,433.20 370.70,438.30 371.60,443.40 372.50,448.50 373.50,453.60 374.20,456.20 375.10,453.60 376.10,450.40 377.10,447.90 378.00,446.00 378.90,448.50 379.70,444.70 380.60,446.00 381.40,451.10 382.50,456.20 383.50,459.40 384.40,458.10 385.00,458.75 385.40,456.70 386.70,455.40 388.10,454.70 389.20,453.40 390.10,448.00 391.00,443.90 391.80,447.30 392.80,450.00 393.50,458.10 394.10,448.60 394.80,441.90 395.50,439.20 396.20,446.00 396.80,440.60 397.50,441.90 398.20,436.50 398.80,434.50 399.50,438.60 400.20,435.20 400.90,431.80 401.50,431.20 402.20,433.20 403.10,428.50 404.00,427.80 404.50,433.80 405.20,439.20 405.80,445.30 406.60,439.90 407.30,441.20 408.00,446.00 408.50,441.20 409.30,439.20 410.30,439.90 411.60,439.20 412.60,439.90 413.60,442.60 414.70,447.30 415.70,451.30 416.60,455.40 417.70,456.00 419.00,455.40 420.40,457.40 421.70,460.80 423.10,464.10 424.40,466.80 425.50,470.20 426.40,474.20 427.10,471.50 427.80,470.20 428.50,474.20 429.10,479.60 430.10,485.00 430.90,488.40 431.80,487.70 433.20,488.40 434.10,491.00 435.20,493.70 436.30,495.80 437.20,497.80 438.50,498.40 439.90,498.70 441.20,499.80 442.20,501.80 443.30,503.20 444.30,501.10 445.70,500.50 447.00,501.80 448.40,501.10 449.70,500.90 452.00,502.50 455.00,501.80 460.00,502.70 470.00,502.20 480.80,502.70" fill="none" stroke="#000" stroke-width="1.7" stroke-linejoin="round"/>
<line x1="300.32" y1="471.60" x2="300.50" y2="504.00" stroke="#000" stroke-width="1.8"/>
<text transform="translate(420.90,330.20) scale(1,0.93)"  font-weight="bold" font-size="15" fill="#000">GM-CSF</text>
<text transform="translate(420.90,345.60) scale(1,0.93)"  font-weight="bold" font-size="15" fill="#000">Day 7</text>
<polyline points="53.80,742.60 51.70,528.00 269.50,527.00 270.50,742.20 53.80,742.60" fill="none" stroke="#5a5a5a" stroke-width="1.3"/>
<polyline points="51.70,528.00 53.80,742.60 270.50,742.20" fill="none" stroke="#222" stroke-width="1.15"/>
<line x1="51.20" y1="742.60" x2="53.80" y2="742.60" stroke="#222" stroke-width="1.0"/>
<text transform="translate(48.90,742.60) rotate(-90) scale(0.85,1)" text-anchor="middle"  font-size="6.1" fill="#111" stroke="#111" stroke-width="0.2">0</text>
<line x1="52.13" y1="735.45" x2="53.73" y2="735.45" stroke="#222" stroke-width="0.9"/>
<line x1="52.06" y1="728.29" x2="53.66" y2="728.29" stroke="#222" stroke-width="0.9"/>
<line x1="51.99" y1="721.14" x2="53.59" y2="721.14" stroke="#222" stroke-width="0.9"/>
<line x1="51.92" y1="713.99" x2="53.52" y2="713.99" stroke="#222" stroke-width="0.9"/>
<line x1="50.85" y1="706.83" x2="53.45" y2="706.83" stroke="#222" stroke-width="1.0"/>
<text transform="translate(48.55,706.83) rotate(-90) scale(0.85,1)" text-anchor="middle"  font-size="6.1" fill="#111" stroke="#111" stroke-width="0.2">30</text>
<line x1="51.78" y1="699.68" x2="53.38" y2="699.68" stroke="#222" stroke-width="0.9"/>
<line x1="51.71" y1="692.53" x2="53.31" y2="692.53" stroke="#222" stroke-width="0.9"/>
<line x1="51.64" y1="685.37" x2="53.24" y2="685.37" stroke="#222" stroke-width="0.9"/>
<line x1="51.57" y1="678.22" x2="53.17" y2="678.22" stroke="#222" stroke-width="0.9"/>
<line x1="50.50" y1="671.07" x2="53.10" y2="671.07" stroke="#222" stroke-width="1.0"/>
<text transform="translate(48.20,671.07) rotate(-90) scale(0.85,1)" text-anchor="middle"  font-size="6.1" fill="#111" stroke="#111" stroke-width="0.2">60</text>
<line x1="51.43" y1="663.91" x2="53.03" y2="663.91" stroke="#222" stroke-width="0.9"/>
<line x1="51.36" y1="656.76" x2="52.96" y2="656.76" stroke="#222" stroke-width="0.9"/>
<line x1="51.29" y1="649.61" x2="52.89" y2="649.61" stroke="#222" stroke-width="0.9"/>
<line x1="51.22" y1="642.45" x2="52.82" y2="642.45" stroke="#222" stroke-width="0.9"/>
<line x1="50.15" y1="635.30" x2="52.75" y2="635.30" stroke="#222" stroke-width="1.0"/>
<text transform="translate(47.85,635.30) rotate(-90) scale(0.85,1)" text-anchor="middle"  font-size="6.1" fill="#111" stroke="#111" stroke-width="0.2">90</text>
<line x1="51.08" y1="628.15" x2="52.68" y2="628.15" stroke="#222" stroke-width="0.9"/>
<line x1="51.01" y1="620.99" x2="52.61" y2="620.99" stroke="#222" stroke-width="0.9"/>
<line x1="50.94" y1="613.84" x2="52.54" y2="613.84" stroke="#222" stroke-width="0.9"/>
<line x1="50.87" y1="606.69" x2="52.47" y2="606.69" stroke="#222" stroke-width="0.9"/>
<line x1="49.80" y1="599.53" x2="52.40" y2="599.53" stroke="#222" stroke-width="1.0"/>
<text transform="translate(47.50,599.53) rotate(-90) scale(0.85,1)" text-anchor="middle"  font-size="6.1" fill="#111" stroke="#111" stroke-width="0.2">120</text>
<line x1="50.73" y1="592.38" x2="52.33" y2="592.38" stroke="#222" stroke-width="0.9"/>
<line x1="50.66" y1="585.23" x2="52.26" y2="585.23" stroke="#222" stroke-width="0.9"/>
<line x1="50.59" y1="578.07" x2="52.19" y2="578.07" stroke="#222" stroke-width="0.9"/>
<line x1="50.52" y1="570.92" x2="52.12" y2="570.92" stroke="#222" stroke-width="0.9"/>
<line x1="49.45" y1="563.77" x2="52.05" y2="563.77" stroke="#222" stroke-width="1.0"/>
<text transform="translate(47.15,563.77) rotate(-90) scale(0.85,1)" text-anchor="middle"  font-size="6.1" fill="#111" stroke="#111" stroke-width="0.2">150</text>
<line x1="50.38" y1="556.61" x2="51.98" y2="556.61" stroke="#222" stroke-width="0.9"/>
<line x1="50.31" y1="549.46" x2="51.91" y2="549.46" stroke="#222" stroke-width="0.9"/>
<line x1="50.24" y1="542.31" x2="51.84" y2="542.31" stroke="#222" stroke-width="0.9"/>
<line x1="50.17" y1="535.15" x2="51.77" y2="535.15" stroke="#222" stroke-width="0.9"/>
<line x1="49.10" y1="528.00" x2="51.70" y2="528.00" stroke="#222" stroke-width="1.0"/>
<text transform="translate(46.80,528.00) rotate(-90) scale(0.85,1)" text-anchor="middle"  font-size="6.1" fill="#111" stroke="#111" stroke-width="0.2">180</text>
<line x1="53.80" y1="742.60" x2="53.80" y2="745.90" stroke="#111" stroke-width="1.0"/>
<text transform="translate(52.30,752.00) scale(0.8,1)" text-anchor="middle"  font-size="6.4" fill="#111" stroke="#111" stroke-width="0.3">10</text>
<text transform="translate(54.80,748.80) scale(0.85,1)"  font-size="5.8" fill="#111" stroke="#111" stroke-width="0.25">0</text>
<line x1="70.11" y1="742.57" x2="70.11" y2="744.57" stroke="#111" stroke-width="1.0"/>
<line x1="79.65" y1="742.55" x2="79.65" y2="744.55" stroke="#111" stroke-width="1.0"/>
<line x1="86.42" y1="742.54" x2="86.42" y2="744.54" stroke="#111" stroke-width="1.0"/>
<line x1="91.67" y1="742.53" x2="91.67" y2="744.53" stroke="#111" stroke-width="1.0"/>
<line x1="95.96" y1="742.52" x2="95.96" y2="744.52" stroke="#111" stroke-width="1.0"/>
<line x1="99.58" y1="742.52" x2="99.58" y2="744.52" stroke="#111" stroke-width="1.0"/>
<line x1="102.72" y1="742.51" x2="102.72" y2="744.51" stroke="#111" stroke-width="1.0"/>
<line x1="105.50" y1="742.50" x2="105.50" y2="744.50" stroke="#111" stroke-width="1.0"/>
<line x1="107.97" y1="742.50" x2="107.97" y2="745.80" stroke="#111" stroke-width="1.0"/>
<text transform="translate(106.47,751.90) scale(0.8,1)" text-anchor="middle"  font-size="6.4" fill="#111" stroke="#111" stroke-width="0.3">10</text>
<text transform="translate(108.97,748.70) scale(0.85,1)"  font-size="5.8" fill="#111" stroke="#111" stroke-width="0.25">1</text>
<line x1="124.28" y1="742.47" x2="124.28" y2="744.47" stroke="#111" stroke-width="1.0"/>
<line x1="133.82" y1="742.45" x2="133.82" y2="744.45" stroke="#111" stroke-width="1.0"/>
<line x1="140.59" y1="742.44" x2="140.59" y2="744.44" stroke="#111" stroke-width="1.0"/>
<line x1="145.84" y1="742.43" x2="145.84" y2="744.43" stroke="#111" stroke-width="1.0"/>
<line x1="150.13" y1="742.42" x2="150.13" y2="744.42" stroke="#111" stroke-width="1.0"/>
<line x1="153.76" y1="742.42" x2="153.76" y2="744.42" stroke="#111" stroke-width="1.0"/>
<line x1="156.90" y1="742.41" x2="156.90" y2="744.41" stroke="#111" stroke-width="1.0"/>
<line x1="159.67" y1="742.40" x2="159.67" y2="744.40" stroke="#111" stroke-width="1.0"/>
<line x1="162.15" y1="742.40" x2="162.15" y2="745.70" stroke="#111" stroke-width="1.0"/>
<text transform="translate(160.65,751.80) scale(0.8,1)" text-anchor="middle"  font-size="6.4" fill="#111" stroke="#111" stroke-width="0.3">10</text>
<text transform="translate(163.15,748.60) scale(0.85,1)"  font-size="5.8" fill="#111" stroke="#111" stroke-width="0.25">2</text>
<line x1="178.46" y1="742.37" x2="178.46" y2="744.37" stroke="#111" stroke-width="1.0"/>
<line x1="188.00" y1="742.35" x2="188.00" y2="744.35" stroke="#111" stroke-width="1.0"/>
<line x1="194.77" y1="742.34" x2="194.77" y2="744.34" stroke="#111" stroke-width="1.0"/>
<line x1="200.02" y1="742.33" x2="200.02" y2="744.33" stroke="#111" stroke-width="1.0"/>
<line x1="204.31" y1="742.32" x2="204.31" y2="744.32" stroke="#111" stroke-width="1.0"/>
<line x1="207.93" y1="742.32" x2="207.93" y2="744.32" stroke="#111" stroke-width="1.0"/>
<line x1="211.07" y1="742.31" x2="211.07" y2="744.31" stroke="#111" stroke-width="1.0"/>
<line x1="213.85" y1="742.30" x2="213.85" y2="744.30" stroke="#111" stroke-width="1.0"/>
<line x1="216.32" y1="742.30" x2="216.32" y2="745.60" stroke="#111" stroke-width="1.0"/>
<text transform="translate(214.82,751.70) scale(0.8,1)" text-anchor="middle"  font-size="6.4" fill="#111" stroke="#111" stroke-width="0.3">10</text>
<text transform="translate(217.32,748.50) scale(0.85,1)"  font-size="5.8" fill="#111" stroke="#111" stroke-width="0.25">3</text>
<line x1="232.63" y1="742.27" x2="232.63" y2="744.27" stroke="#111" stroke-width="1.0"/>
<line x1="242.17" y1="742.25" x2="242.17" y2="744.25" stroke="#111" stroke-width="1.0"/>
<line x1="248.94" y1="742.24" x2="248.94" y2="744.24" stroke="#111" stroke-width="1.0"/>
<line x1="254.19" y1="742.23" x2="254.19" y2="744.23" stroke="#111" stroke-width="1.0"/>
<line x1="258.48" y1="742.22" x2="258.48" y2="744.22" stroke="#111" stroke-width="1.0"/>
<line x1="262.11" y1="742.22" x2="262.11" y2="744.22" stroke="#111" stroke-width="1.0"/>
<line x1="265.25" y1="742.21" x2="265.25" y2="744.21" stroke="#111" stroke-width="1.0"/>
<line x1="268.02" y1="742.20" x2="268.02" y2="744.20" stroke="#111" stroke-width="1.0"/>
<line x1="270.50" y1="742.20" x2="270.50" y2="745.50" stroke="#111" stroke-width="1.0"/>
<text transform="translate(269.00,751.60) scale(0.8,1)" text-anchor="middle"  font-size="6.4" fill="#111" stroke="#111" stroke-width="0.3">10</text>
<text transform="translate(271.50,748.40) scale(0.85,1)"  font-size="5.8" fill="#111" stroke="#111" stroke-width="0.25">4</text>
<polyline points="53.50,669.60 54.60,665.20 55.70,660.80 56.40,653.50 57.10,646.10 58.20,638.80 58.60,635.00 59.00,631.00 59.70,622.60 60.40,614.10 61.10,605.70 61.80,595.90 62.50,588.90 63.20,583.30 63.50,576.30 64.30,574.90 64.90,581.90 65.30,587.50 65.70,579.10 66.00,569.30 66.40,560.90 67.00,552.40 67.40,544.00 68.10,538.40 68.80,535.60 69.50,538.40 69.90,544.00 70.50,541.20 71.20,544.00 71.90,548.20 72.80,546.80 73.30,549.60 74.20,551.00 74.70,555.20 75.10,559.50 75.80,558.10 76.50,560.90 77.00,565.10 77.70,572.10 78.40,579.10 78.90,586.10 79.50,593.10 80.10,597.30 80.80,595.90 81.50,598.70 82.20,604.30 82.90,609.90 83.60,615.60 84.30,622.60 85.00,631.00 85.40,640.00 85.40,643.20 86.50,646.10 87.20,652.00 87.90,659.30 88.70,666.70 89.80,674.00 90.90,679.90 91.90,685.70 93.10,690.10 94.20,692.30 95.30,694.50 96.00,698.90 96.70,703.30 97.70,706.20 98.60,710.60 99.20,715.00 100.40,716.50 101.10,713.60 101.90,715.00 102.60,719.40 103.30,722.40 104.50,723.80 105.50,722.40 106.50,724.60 107.70,726.80 109.20,728.20 110.60,729.70 112.00,731.20 112.50,731.25 112.70,731.70 114.00,733.10 115.40,732.40 116.70,733.10 117.80,734.40 118.70,730.40 119.70,728.80 120.80,730.40 121.80,734.40 122.80,736.40 123.70,737.10 124.80,735.80 125.90,733.70 126.80,735.10 127.80,737.10 128.80,735.80 129.90,735.10 130.90,736.40 131.80,735.80 132.90,737.80 134.00,739.10 135.60,739.80 136.90,740.10 138.90,740.50 141.60,741.10 144.30,741.80 147.70,742.20 155.00,742.20" fill="none" stroke="#000" stroke-width="1.05" stroke-dasharray="1,1"/>
<polyline points="53.80,720.00 54.20,718.00 55.20,712.10 56.10,709.90 57.10,709.20 57.90,703.30 58.60,696.00 59.30,688.70 60.10,681.30 60.80,675.50 61.50,671.10 62.60,666.70 63.40,659.30 64.00,657.10 64.90,662.30 65.50,671.10 66.10,663.70 66.70,654.90 67.40,646.10 68.10,637.30 68.50,631.00 69.10,625.40 70.00,622.60 70.90,621.20 71.60,619.80 72.30,621.90 73.00,626.80 73.70,628.20 74.40,626.80 75.10,619.80 75.80,612.70 76.50,615.60 77.20,621.20 77.90,622.60 78.60,625.40 79.30,626.80 80.10,628.90 80.80,630.30 81.50,630.30 82.20,631.00 82.90,630.70 83.60,631.70 84.30,633.80 84.60,635.90 85.40,641.70 86.00,650.50 86.60,659.30 87.50,665.20 88.40,666.70 89.40,660.80 90.10,665.20 90.90,674.00 91.60,681.30 92.50,687.20 93.30,688.70 94.50,686.50 95.40,688.70 96.30,690.90 97.50,693.00 98.60,690.10 99.70,693.00 100.40,694.50 101.10,697.40 101.80,704.80 102.60,700.40 103.30,697.40 104.50,698.90 105.50,701.80 106.50,704.80 107.70,703.30 108.90,701.80 109.90,703.30 111.40,701.10 112.00,695.40 113.00,699.40 114.00,701.40 115.40,698.70 116.50,696.70 117.40,699.40 118.30,701.40 119.40,705.50 120.50,701.40 121.40,698.10 122.80,696.70 123.70,694.70 124.80,692.00 125.90,690.00 127.20,688.60 128.60,688.00 129.50,689.30 130.20,692.70 131.30,694.00 131.90,688.60 132.30,679.20 132.60,671.20 133.10,673.80 133.60,677.90 134.20,672.50 134.90,681.90 135.60,677.90 136.20,667.10 136.90,663.70 138.00,664.40 138.90,663.70 139.90,665.80 141.00,667.80 142.00,669.80 143.00,671.80 143.90,674.50 145.00,677.20 146.10,679.90 147.40,680.60 148.40,681.90 149.30,686.00 150.10,691.30 150.80,698.10 151.70,706.10 152.80,712.90 153.70,716.90 154.70,718.90 155.80,720.90 156.80,723.00 158.20,724.30 159.10,726.30 160.10,729.00 161.10,731.70 162.20,734.40 163.60,736.40 165.20,737.40 166.50,738.40 167.90,739.80 169.20,739.10 170.60,737.80 171.90,738.40 173.30,738.70 174.60,739.80 175.90,740.50 177.30,741.10 178.60,741.80 180.00,741.10 182.50,741.25 187.50,741.25 188.75,742.00" fill="none" stroke="#000" stroke-width="1.7" stroke-linejoin="round"/>
<line x1="53.02" y1="611.80" x2="54.29" y2="742.00" stroke="#000" stroke-width="1.8"/>
<text transform="translate(176.40,569.20) scale(1,0.93)"  font-weight="bold" font-size="15" fill="#000">IL-3</text>
<text transform="translate(176.40,585.00) scale(1,0.93)"  font-weight="bold" font-size="15" fill="#000">Day 7</text>
<polyline points="299.10,743.90 298.00,528.00 513.20,527.50 514.20,743.30 299.10,743.90" fill="none" stroke="#5a5a5a" stroke-width="1.3"/>
<polyline points="298.00,528.00 299.10,743.90 514.20,743.30" fill="none" stroke="#222" stroke-width="1.15"/>
<line x1="296.50" y1="743.90" x2="299.10" y2="743.90" stroke="#222" stroke-width="1.0"/>
<text transform="translate(294.20,743.90) rotate(-90) scale(0.85,1)" text-anchor="middle"  font-size="6.1" fill="#111" stroke="#111" stroke-width="0.2">0</text>
<line x1="297.46" y1="736.70" x2="299.06" y2="736.70" stroke="#222" stroke-width="0.9"/>
<line x1="297.43" y1="729.51" x2="299.03" y2="729.51" stroke="#222" stroke-width="0.9"/>
<line x1="297.39" y1="722.31" x2="298.99" y2="722.31" stroke="#222" stroke-width="0.9"/>
<line x1="297.35" y1="715.11" x2="298.95" y2="715.11" stroke="#222" stroke-width="0.9"/>
<line x1="296.32" y1="707.92" x2="298.92" y2="707.92" stroke="#222" stroke-width="1.0"/>
<text transform="translate(294.02,707.92) rotate(-90) scale(0.85,1)" text-anchor="middle"  font-size="6.1" fill="#111" stroke="#111" stroke-width="0.2">30</text>
<line x1="297.28" y1="700.72" x2="298.88" y2="700.72" stroke="#222" stroke-width="0.9"/>
<line x1="297.24" y1="693.52" x2="298.84" y2="693.52" stroke="#222" stroke-width="0.9"/>
<line x1="297.21" y1="686.33" x2="298.81" y2="686.33" stroke="#222" stroke-width="0.9"/>
<line x1="297.17" y1="679.13" x2="298.77" y2="679.13" stroke="#222" stroke-width="0.9"/>
<line x1="296.13" y1="671.93" x2="298.73" y2="671.93" stroke="#222" stroke-width="1.0"/>
<text transform="translate(293.83,671.93) rotate(-90) scale(0.85,1)" text-anchor="middle"  font-size="6.1" fill="#111" stroke="#111" stroke-width="0.2">60</text>
<line x1="297.10" y1="664.74" x2="298.70" y2="664.74" stroke="#222" stroke-width="0.9"/>
<line x1="297.06" y1="657.54" x2="298.66" y2="657.54" stroke="#222" stroke-width="0.9"/>
<line x1="297.02" y1="650.34" x2="298.62" y2="650.34" stroke="#222" stroke-width="0.9"/>
<line x1="296.99" y1="643.15" x2="298.59" y2="643.15" stroke="#222" stroke-width="0.9"/>
<line x1="295.95" y1="635.95" x2="298.55" y2="635.95" stroke="#222" stroke-width="1.0"/>
<text transform="translate(293.65,635.95) rotate(-90) scale(0.85,1)" text-anchor="middle"  font-size="6.1" fill="#111" stroke="#111" stroke-width="0.2">90</text>
<line x1="296.91" y1="628.75" x2="298.51" y2="628.75" stroke="#222" stroke-width="0.9"/>
<line x1="296.88" y1="621.56" x2="298.48" y2="621.56" stroke="#222" stroke-width="0.9"/>
<line x1="296.84" y1="614.36" x2="298.44" y2="614.36" stroke="#222" stroke-width="0.9"/>
<line x1="296.80" y1="607.16" x2="298.40" y2="607.16" stroke="#222" stroke-width="0.9"/>
<line x1="295.77" y1="599.97" x2="298.37" y2="599.97" stroke="#222" stroke-width="1.0"/>
<text transform="translate(293.47,599.97) rotate(-90) scale(0.85,1)" text-anchor="middle"  font-size="6.1" fill="#111" stroke="#111" stroke-width="0.2">120</text>
<line x1="296.73" y1="592.77" x2="298.33" y2="592.77" stroke="#222" stroke-width="0.9"/>
<line x1="296.69" y1="585.57" x2="298.29" y2="585.57" stroke="#222" stroke-width="0.9"/>
<line x1="296.66" y1="578.38" x2="298.26" y2="578.38" stroke="#222" stroke-width="0.9"/>
<line x1="296.62" y1="571.18" x2="298.22" y2="571.18" stroke="#222" stroke-width="0.9"/>
<line x1="295.58" y1="563.98" x2="298.18" y2="563.98" stroke="#222" stroke-width="1.0"/>
<text transform="translate(293.28,563.98) rotate(-90) scale(0.85,1)" text-anchor="middle"  font-size="6.1" fill="#111" stroke="#111" stroke-width="0.2">150</text>
<line x1="296.55" y1="556.79" x2="298.15" y2="556.79" stroke="#222" stroke-width="0.9"/>
<line x1="296.51" y1="549.59" x2="298.11" y2="549.59" stroke="#222" stroke-width="0.9"/>
<line x1="296.47" y1="542.39" x2="298.07" y2="542.39" stroke="#222" stroke-width="0.9"/>
<line x1="296.44" y1="535.20" x2="298.04" y2="535.20" stroke="#222" stroke-width="0.9"/>
<line x1="295.40" y1="528.00" x2="298.00" y2="528.00" stroke="#222" stroke-width="1.0"/>
<text transform="translate(293.10,528.00) rotate(-90) scale(0.85,1)" text-anchor="middle"  font-size="6.1" fill="#111" stroke="#111" stroke-width="0.2">180</text>
<line x1="299.10" y1="743.90" x2="299.10" y2="747.20" stroke="#111" stroke-width="1.0"/>
<text transform="translate(297.60,753.30) scale(0.8,1)" text-anchor="middle"  font-size="6.4" fill="#111" stroke="#111" stroke-width="0.3">10</text>
<text transform="translate(300.10,750.10) scale(0.85,1)"  font-size="5.8" fill="#111" stroke="#111" stroke-width="0.25">0</text>
<line x1="315.29" y1="743.85" x2="315.29" y2="745.85" stroke="#111" stroke-width="1.0"/>
<line x1="324.76" y1="743.83" x2="324.76" y2="745.83" stroke="#111" stroke-width="1.0"/>
<line x1="331.48" y1="743.81" x2="331.48" y2="745.81" stroke="#111" stroke-width="1.0"/>
<line x1="336.69" y1="743.80" x2="336.69" y2="745.80" stroke="#111" stroke-width="1.0"/>
<line x1="340.95" y1="743.78" x2="340.95" y2="745.78" stroke="#111" stroke-width="1.0"/>
<line x1="344.55" y1="743.77" x2="344.55" y2="745.77" stroke="#111" stroke-width="1.0"/>
<line x1="347.66" y1="743.76" x2="347.66" y2="745.76" stroke="#111" stroke-width="1.0"/>
<line x1="350.41" y1="743.76" x2="350.41" y2="745.76" stroke="#111" stroke-width="1.0"/>
<line x1="352.88" y1="743.75" x2="352.88" y2="747.05" stroke="#111" stroke-width="1.0"/>
<text transform="translate(351.38,753.15) scale(0.8,1)" text-anchor="middle"  font-size="6.4" fill="#111" stroke="#111" stroke-width="0.3">10</text>
<text transform="translate(353.88,749.95) scale(0.85,1)"  font-size="5.8" fill="#111" stroke="#111" stroke-width="0.25">1</text>
<line x1="369.06" y1="743.70" x2="369.06" y2="745.70" stroke="#111" stroke-width="1.0"/>
<line x1="378.53" y1="743.68" x2="378.53" y2="745.68" stroke="#111" stroke-width="1.0"/>
<line x1="385.25" y1="743.66" x2="385.25" y2="745.66" stroke="#111" stroke-width="1.0"/>
<line x1="390.46" y1="743.65" x2="390.46" y2="745.65" stroke="#111" stroke-width="1.0"/>
<line x1="394.72" y1="743.63" x2="394.72" y2="745.63" stroke="#111" stroke-width="1.0"/>
<line x1="398.32" y1="743.62" x2="398.32" y2="745.62" stroke="#111" stroke-width="1.0"/>
<line x1="401.44" y1="743.61" x2="401.44" y2="745.61" stroke="#111" stroke-width="1.0"/>
<line x1="404.19" y1="743.61" x2="404.19" y2="745.61" stroke="#111" stroke-width="1.0"/>
<line x1="406.65" y1="743.60" x2="406.65" y2="746.90" stroke="#111" stroke-width="1.0"/>
<text transform="translate(405.15,753.00) scale(0.8,1)" text-anchor="middle"  font-size="6.4" fill="#111" stroke="#111" stroke-width="0.3">10</text>
<text transform="translate(407.65,749.80) scale(0.85,1)"  font-size="5.8" fill="#111" stroke="#111" stroke-width="0.25">2</text>
<line x1="422.84" y1="743.55" x2="422.84" y2="745.55" stroke="#111" stroke-width="1.0"/>
<line x1="432.31" y1="743.53" x2="432.31" y2="745.53" stroke="#111" stroke-width="1.0"/>
<line x1="439.03" y1="743.51" x2="439.03" y2="745.51" stroke="#111" stroke-width="1.0"/>
<line x1="444.24" y1="743.50" x2="444.24" y2="745.50" stroke="#111" stroke-width="1.0"/>
<line x1="448.50" y1="743.48" x2="448.50" y2="745.48" stroke="#111" stroke-width="1.0"/>
<line x1="452.10" y1="743.47" x2="452.10" y2="745.47" stroke="#111" stroke-width="1.0"/>
<line x1="455.21" y1="743.46" x2="455.21" y2="745.46" stroke="#111" stroke-width="1.0"/>
<line x1="457.96" y1="743.46" x2="457.96" y2="745.46" stroke="#111" stroke-width="1.0"/>
<line x1="460.43" y1="743.45" x2="460.43" y2="746.75" stroke="#111" stroke-width="1.0"/>
<text transform="translate(458.93,752.85) scale(0.8,1)" text-anchor="middle"  font-size="6.4" fill="#111" stroke="#111" stroke-width="0.3">10</text>
<text transform="translate(461.43,749.65) scale(0.85,1)"  font-size="5.8" fill="#111" stroke="#111" stroke-width="0.25">3</text>
<line x1="476.61" y1="743.40" x2="476.61" y2="745.40" stroke="#111" stroke-width="1.0"/>
<line x1="486.08" y1="743.38" x2="486.08" y2="745.38" stroke="#111" stroke-width="1.0"/>
<line x1="492.80" y1="743.36" x2="492.80" y2="745.36" stroke="#111" stroke-width="1.0"/>
<line x1="498.01" y1="743.35" x2="498.01" y2="745.35" stroke="#111" stroke-width="1.0"/>
<line x1="502.27" y1="743.33" x2="502.27" y2="745.33" stroke="#111" stroke-width="1.0"/>
<line x1="505.87" y1="743.32" x2="505.87" y2="745.32" stroke="#111" stroke-width="1.0"/>
<line x1="508.99" y1="743.31" x2="508.99" y2="745.31" stroke="#111" stroke-width="1.0"/>
<line x1="511.74" y1="743.31" x2="511.74" y2="745.31" stroke="#111" stroke-width="1.0"/>
<line x1="514.20" y1="743.30" x2="514.20" y2="746.60" stroke="#111" stroke-width="1.0"/>
<text transform="translate(512.70,752.70) scale(0.8,1)" text-anchor="middle"  font-size="6.4" fill="#111" stroke="#111" stroke-width="0.3">10</text>
<text transform="translate(515.20,749.50) scale(0.85,1)"  font-size="5.8" fill="#111" stroke="#111" stroke-width="0.25">4</text>
<polyline points="302.90,721.50 303.20,719.50 303.50,712.90 304.70,706.00 306.40,695.60 308.10,689.90 309.30,681.80 310.40,674.90 311.60,663.40 312.30,650.00 313.10,637.20 313.80,624.90 314.60,615.80 315.40,606.60 316.10,597.40 316.90,591.30 317.70,583.60 318.40,577.50 318.90,568.30 319.50,569.80 320.10,575.90 320.70,580.50 321.00,568.30 321.90,560.60 323.00,556.00 324.10,553.00 325.00,551.40 325.80,549.90 326.50,551.40 327.30,545.30 328.10,540.70 328.70,541.50 329.30,543.80 329.90,549.90 330.70,554.50 331.40,560.60 332.20,568.30 333.00,575.90 333.70,580.50 334.50,586.70 335.30,591.30 336.00,594.30 336.80,598.90 337.60,606.60 338.20,614.20 338.80,609.60 339.90,606.60 340.60,609.60 341.40,615.80 342.20,621.90 342.90,629.50 343.70,637.20 344.50,650.00 344.70,654.70 345.60,661.40 346.70,666.80 347.80,673.50 348.70,678.80 349.60,684.20 350.40,690.90 351.40,697.60 352.30,700.90 353.40,703.60 354.50,705.60 355.40,708.30 356.10,711.00 356.70,712.30 357.40,708.90 358.50,708.30 359.40,711.00 360.10,717.60 360.70,724.30 361.70,726.30 362.80,727.00 363.80,728.40 364.80,731.00 365.70,733.00 366.80,732.40 367.80,731.00 368.80,732.40 369.70,735.00 370.80,737.70 371.90,739.10 372.80,737.70 373.70,735.70 374.80,736.40 375.90,738.40 376.80,739.10 378.20,737.70 379.10,736.40 379.90,738.40 380.80,739.70 382.20,741.10 384.20,741.70 386.90,742.40 390.90,743.10 396.20,743.30 400.00,743.00" fill="none" stroke="#000" stroke-width="1.05" stroke-dasharray="1,1"/>
<polyline points="300.30,742.50 301.20,740.50 302.40,736.40 304.10,737.00 305.80,738.20 307.00,738.20 308.10,731.80 309.80,733.00 311.00,729.00 312.70,726.70 315.60,722.60 316.70,711.70 317.90,703.70 318.50,694.50 320.20,693.30 321.90,684.10 323.10,678.40 323.60,665.70 324.60,655.00 326.10,650.00 326.50,637.20 326.80,624.90 327.30,617.30 328.10,612.70 329.10,608.10 329.90,602.00 330.70,594.30 331.40,586.70 332.20,580.50 333.30,579.00 334.20,582.10 334.50,575.90 335.00,566.80 335.30,557.60 335.70,551.40 336.30,548.40 336.80,549.90 337.30,546.80 337.90,545.30 338.30,540.70 338.80,540.00 339.40,542.30 340.00,543.80 340.60,542.30 341.40,545.30 342.20,551.40 342.90,557.60 343.70,562.20 344.50,568.30 345.20,574.40 346.00,582.10 346.40,589.70 347.10,591.30 347.50,585.10 348.30,585.10 349.10,588.20 349.50,594.30 350.10,603.50 350.60,614.20 351.30,628.00 352.10,638.70 352.90,650.00 353.40,650.70 354.50,657.40 355.40,664.10 356.30,669.50 357.40,672.10 358.10,677.50 358.70,684.20 359.40,690.90 360.10,697.60 360.70,701.60 361.40,700.90 362.10,702.90 363.00,706.30 364.10,708.30 364.80,711.00 365.70,715.00 366.50,717.60 367.40,717.60 368.40,716.30 369.20,717.00 370.10,720.30 371.10,723.00 372.10,725.70 373.20,727.70 374.10,728.40 375.10,729.00 376.10,731.00 377.20,731.70 378.20,729.70 379.10,731.00 379.90,733.70 380.80,735.00 381.80,732.40 382.60,729.70 383.50,728.40 384.80,729.00 386.20,730.40 387.50,731.70 388.90,732.40 390.20,732.10 391.50,731.70 392.90,732.10 394.90,731.70 396.90,732.40 398.90,731.00 400.00,729.00 400.80,724.60 402.40,725.80 403.90,726.90 405.00,727.70 406.10,730.80 407.30,734.60 408.50,730.80 409.60,732.30 410.70,730.80 411.60,732.30 412.70,733.10 413.80,730.00 415.00,727.70 416.20,728.50 417.30,729.20 418.40,730.80 419.60,733.80 420.40,735.40 421.50,730.80 422.40,729.20 423.20,733.10 423.90,734.60 425.00,732.30 425.80,731.50 426.50,733.10 427.30,735.40 428.80,736.20 430.70,736.90 432.70,737.20 434.70,736.90 436.20,736.20 437.30,736.90 438.10,738.50 439.30,740.00 440.80,740.30 442.70,740.80 444.20,741.80 445.80,742.80 448.10,742.30 450.40,742.50 452.70,743.10 456.50,743.10 458.80,742.30 460.40,741.80 461.90,742.80 464.20,742.30 466.50,741.80 468.80,742.80" fill="none" stroke="#000" stroke-width="1.7" stroke-linejoin="round"/>
<line x1="299.41" y1="707.00" x2="299.60" y2="743.00" stroke="#000" stroke-width="1.8"/>
<text transform="translate(422.30,568.20) scale(1,0.93)"  font-weight="bold" font-size="15" fill="#000">IL-3</text>
<text transform="translate(422.30,583.60) scale(1,0.93)"  font-weight="bold" font-size="15" fill="#000">Day 7</text>
<text transform="translate(24.7,486) rotate(-90)"  font-weight="bold" font-size="19.4" fill="#000">Cell Counts</text>
<line x1="17.6" y1="369" x2="17.6" y2="340" stroke="#000" stroke-width="3"/>
<polygon points="17.6,321.3 12.5,343 22.7,343" fill="#000"/>
<text x="110.2" y="783"  font-weight="bold" font-size="20" fill="#000">F4/80</text>
<line x1="164.5" y1="775.3" x2="195" y2="775.3" stroke="#000" stroke-width="3"/>
<polygon points="213,775.3 192.5,770.3 192.5,780.3" fill="#000"/>
<text x="346" y="783"  font-weight="bold" font-size="20" fill="#000">c-Fms</text>
<line x1="412.5" y1="775.5" x2="442" y2="775.5" stroke="#000" stroke-width="3"/>
<polygon points="460.5,775.5 440,770.3 440,780.6" fill="#000"/>
</svg>
</body></html>
